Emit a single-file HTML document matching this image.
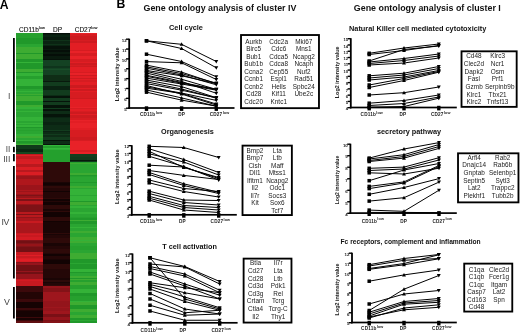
<!DOCTYPE html>
<html><head><meta charset="utf-8"><title>Figure</title>
<style>
html,body{margin:0;padding:0;background:#fff;}
body{width:520px;height:332px;position:relative;overflow:hidden;font-family:"Liberation Sans", sans-serif;}
#wrap{position:absolute;left:0;top:0;width:520px;height:332px;filter:blur(0.5px);}
</style></head><body><div id="wrap">
<svg width="520" height="332" viewBox="0 0 520 332" style="position:absolute;left:0;top:0">
<g shape-rendering="crispEdges">
<rect x="16.00" y="32.60" width="27.30" height="1.49" fill="rgb(38,160,46)"/>
<rect x="16.00" y="34.05" width="27.30" height="1.49" fill="rgb(38,160,46)"/>
<rect x="16.00" y="35.50" width="27.30" height="1.49" fill="rgb(38,160,46)"/>
<rect x="16.00" y="36.95" width="27.30" height="1.49" fill="rgb(38,160,46)"/>
<rect x="16.00" y="38.40" width="27.30" height="1.49" fill="rgb(32,152,42)"/>
<rect x="16.00" y="39.85" width="27.30" height="1.49" fill="rgb(32,152,42)"/>
<rect x="16.00" y="41.30" width="27.30" height="1.49" fill="rgb(32,152,42)"/>
<rect x="16.00" y="42.75" width="27.30" height="1.49" fill="rgb(32,152,42)"/>
<rect x="16.00" y="44.20" width="27.30" height="1.49" fill="rgb(42,165,50)"/>
<rect x="16.00" y="45.65" width="27.30" height="1.49" fill="rgb(42,165,50)"/>
<rect x="16.00" y="47.10" width="27.30" height="1.49" fill="rgb(62,172,50)"/>
<rect x="16.00" y="48.55" width="27.30" height="1.49" fill="rgb(62,172,50)"/>
<rect x="16.00" y="50.00" width="27.30" height="1.49" fill="rgb(62,172,50)"/>
<rect x="16.00" y="51.45" width="27.30" height="1.49" fill="rgb(62,172,50)"/>
<rect x="16.00" y="52.90" width="27.30" height="1.49" fill="rgb(32,152,42)"/>
<rect x="16.00" y="54.35" width="27.30" height="1.49" fill="rgb(62,172,50)"/>
<rect x="16.00" y="55.80" width="27.30" height="1.49" fill="rgb(62,172,50)"/>
<rect x="16.00" y="57.25" width="27.30" height="1.49" fill="rgb(62,172,50)"/>
<rect x="16.00" y="58.70" width="27.30" height="1.49" fill="rgb(32,152,42)"/>
<rect x="16.00" y="60.15" width="27.30" height="1.49" fill="rgb(32,152,42)"/>
<rect x="16.00" y="61.60" width="27.30" height="1.49" fill="rgb(52,178,56)"/>
<rect x="16.00" y="63.05" width="27.30" height="1.49" fill="rgb(32,152,42)"/>
<rect x="16.00" y="64.50" width="27.30" height="1.49" fill="rgb(32,152,42)"/>
<rect x="16.00" y="65.95" width="27.30" height="1.49" fill="rgb(32,152,42)"/>
<rect x="16.00" y="67.40" width="27.30" height="1.49" fill="rgb(32,152,42)"/>
<rect x="16.00" y="68.85" width="27.30" height="1.49" fill="rgb(62,172,50)"/>
<rect x="16.00" y="70.30" width="27.30" height="1.49" fill="rgb(62,172,50)"/>
<rect x="16.00" y="71.75" width="27.30" height="1.49" fill="rgb(32,152,42)"/>
<rect x="16.00" y="73.20" width="27.30" height="1.49" fill="rgb(52,178,56)"/>
<rect x="16.00" y="74.65" width="27.30" height="1.49" fill="rgb(52,178,56)"/>
<rect x="16.00" y="76.10" width="27.30" height="1.49" fill="rgb(38,160,46)"/>
<rect x="16.00" y="77.55" width="27.30" height="1.49" fill="rgb(38,160,46)"/>
<rect x="16.00" y="79.00" width="27.30" height="1.49" fill="rgb(52,178,56)"/>
<rect x="16.00" y="80.45" width="27.30" height="1.49" fill="rgb(52,178,56)"/>
<rect x="16.00" y="81.90" width="27.30" height="1.49" fill="rgb(52,178,56)"/>
<rect x="16.00" y="83.35" width="27.30" height="1.49" fill="rgb(52,178,56)"/>
<rect x="16.00" y="84.80" width="27.30" height="1.49" fill="rgb(52,178,56)"/>
<rect x="16.00" y="86.25" width="27.30" height="1.49" fill="rgb(32,152,42)"/>
<rect x="16.00" y="87.70" width="27.30" height="1.49" fill="rgb(32,152,42)"/>
<rect x="16.00" y="89.15" width="27.30" height="1.49" fill="rgb(42,165,50)"/>
<rect x="16.00" y="90.60" width="27.30" height="1.49" fill="rgb(52,178,56)"/>
<rect x="16.00" y="92.05" width="27.30" height="1.49" fill="rgb(42,165,50)"/>
<rect x="16.00" y="93.50" width="27.30" height="1.49" fill="rgb(62,172,50)"/>
<rect x="16.00" y="94.95" width="27.30" height="1.49" fill="rgb(38,160,46)"/>
<rect x="16.00" y="96.40" width="27.30" height="1.49" fill="rgb(62,172,50)"/>
<rect x="16.00" y="97.85" width="27.30" height="1.49" fill="rgb(62,172,50)"/>
<rect x="16.00" y="99.30" width="27.30" height="1.49" fill="rgb(62,172,50)"/>
<rect x="16.00" y="100.75" width="27.30" height="1.49" fill="rgb(32,152,42)"/>
<rect x="16.00" y="102.20" width="27.30" height="1.49" fill="rgb(32,152,42)"/>
<rect x="16.00" y="103.65" width="27.30" height="1.49" fill="rgb(32,152,42)"/>
<rect x="16.00" y="105.10" width="27.30" height="1.49" fill="rgb(62,172,50)"/>
<rect x="16.00" y="106.55" width="27.30" height="1.49" fill="rgb(52,178,56)"/>
<rect x="16.00" y="108.00" width="27.30" height="1.49" fill="rgb(52,178,56)"/>
<rect x="16.00" y="109.45" width="27.30" height="1.49" fill="rgb(42,165,50)"/>
<rect x="16.00" y="110.90" width="27.30" height="1.49" fill="rgb(52,178,56)"/>
<rect x="16.00" y="112.35" width="27.30" height="1.49" fill="rgb(42,165,50)"/>
<rect x="16.00" y="113.80" width="27.30" height="1.49" fill="rgb(42,165,50)"/>
<rect x="16.00" y="115.25" width="27.30" height="1.49" fill="rgb(42,165,50)"/>
<rect x="16.00" y="116.70" width="27.30" height="1.49" fill="rgb(52,178,56)"/>
<rect x="16.00" y="118.15" width="27.30" height="1.49" fill="rgb(52,178,56)"/>
<rect x="16.00" y="119.60" width="27.30" height="1.49" fill="rgb(52,178,56)"/>
<rect x="16.00" y="121.05" width="27.30" height="1.49" fill="rgb(42,165,50)"/>
<rect x="16.00" y="122.50" width="27.30" height="1.49" fill="rgb(52,178,56)"/>
<rect x="16.00" y="123.95" width="27.30" height="1.49" fill="rgb(42,165,50)"/>
<rect x="16.00" y="125.40" width="27.30" height="1.49" fill="rgb(52,178,56)"/>
<rect x="16.00" y="126.85" width="27.30" height="1.49" fill="rgb(32,152,42)"/>
<rect x="16.00" y="128.30" width="27.30" height="1.49" fill="rgb(42,165,50)"/>
<rect x="16.00" y="129.75" width="27.30" height="1.49" fill="rgb(38,160,46)"/>
<rect x="16.00" y="131.20" width="27.30" height="1.49" fill="rgb(42,165,50)"/>
<rect x="16.00" y="132.65" width="27.30" height="1.49" fill="rgb(42,165,50)"/>
<rect x="16.00" y="134.10" width="27.30" height="1.49" fill="rgb(52,178,56)"/>
<rect x="16.00" y="135.55" width="27.30" height="1.49" fill="rgb(62,172,50)"/>
<rect x="16.00" y="137.00" width="27.30" height="1.49" fill="rgb(62,172,50)"/>
<rect x="16.00" y="138.45" width="27.30" height="1.49" fill="rgb(42,165,50)"/>
<rect x="16.00" y="139.90" width="27.30" height="1.49" fill="rgb(52,178,56)"/>
<rect x="16.00" y="141.35" width="27.30" height="1.49" fill="rgb(32,152,42)"/>
<rect x="16.00" y="142.80" width="27.30" height="1.49" fill="rgb(38,160,46)"/>
<rect x="16.00" y="144.25" width="27.30" height="0.39" fill="rgb(62,172,50)"/>
<rect x="16.00" y="144.60" width="27.30" height="1.49" fill="rgb(16,58,26)"/>
<rect x="16.00" y="146.05" width="27.30" height="1.49" fill="rgb(16,58,26)"/>
<rect x="16.00" y="147.50" width="27.30" height="1.49" fill="rgb(16,58,26)"/>
<rect x="16.00" y="148.95" width="27.30" height="1.49" fill="rgb(10,40,18)"/>
<rect x="16.00" y="150.40" width="27.30" height="1.49" fill="rgb(10,40,18)"/>
<rect x="16.00" y="151.85" width="27.30" height="1.49" fill="rgb(22,72,32)"/>
<rect x="16.00" y="153.30" width="27.30" height="0.24" fill="rgb(22,72,32)"/>
<rect x="16.00" y="153.50" width="27.30" height="1.49" fill="rgb(192,26,31)"/>
<rect x="16.00" y="154.95" width="27.30" height="1.49" fill="rgb(222,32,38)"/>
<rect x="16.00" y="156.40" width="27.30" height="1.49" fill="rgb(192,26,31)"/>
<rect x="16.00" y="157.85" width="27.30" height="1.49" fill="rgb(192,26,31)"/>
<rect x="16.00" y="159.30" width="27.30" height="1.49" fill="rgb(214,30,36)"/>
<rect x="16.00" y="160.75" width="27.30" height="0.79" fill="rgb(214,30,36)"/>
<rect x="16.00" y="161.50" width="27.30" height="1.49" fill="rgb(218,30,36)"/>
<rect x="16.00" y="162.95" width="27.30" height="1.49" fill="rgb(218,30,36)"/>
<rect x="16.00" y="164.40" width="27.30" height="1.49" fill="rgb(185,25,30)"/>
<rect x="16.00" y="165.85" width="27.30" height="1.49" fill="rgb(185,25,30)"/>
<rect x="16.00" y="167.30" width="27.30" height="1.49" fill="rgb(218,30,36)"/>
<rect x="16.00" y="168.75" width="27.30" height="1.49" fill="rgb(218,30,36)"/>
<rect x="16.00" y="170.20" width="27.30" height="1.49" fill="rgb(185,25,30)"/>
<rect x="16.00" y="171.65" width="27.30" height="1.49" fill="rgb(218,30,36)"/>
<rect x="16.00" y="173.10" width="27.30" height="1.49" fill="rgb(218,30,36)"/>
<rect x="16.00" y="174.55" width="27.30" height="0.49" fill="rgb(218,30,36)"/>
<rect x="16.00" y="175.00" width="27.30" height="1.49" fill="rgb(175,23,28)"/>
<rect x="16.00" y="176.45" width="27.30" height="1.49" fill="rgb(155,20,26)"/>
<rect x="16.00" y="177.90" width="27.30" height="1.49" fill="rgb(155,20,26)"/>
<rect x="16.00" y="179.35" width="27.30" height="1.49" fill="rgb(175,23,28)"/>
<rect x="16.00" y="180.80" width="27.30" height="1.49" fill="rgb(175,23,28)"/>
<rect x="16.00" y="182.25" width="27.30" height="1.49" fill="rgb(175,23,28)"/>
<rect x="16.00" y="183.70" width="27.30" height="1.49" fill="rgb(175,23,28)"/>
<rect x="16.00" y="185.15" width="27.30" height="1.49" fill="rgb(155,20,26)"/>
<rect x="16.00" y="186.60" width="27.30" height="1.49" fill="rgb(155,20,26)"/>
<rect x="16.00" y="188.05" width="27.30" height="1.49" fill="rgb(155,20,26)"/>
<rect x="16.00" y="189.50" width="27.30" height="1.49" fill="rgb(175,23,28)"/>
<rect x="16.00" y="190.95" width="27.30" height="1.49" fill="rgb(155,20,26)"/>
<rect x="16.00" y="192.40" width="27.30" height="1.49" fill="rgb(175,23,28)"/>
<rect x="16.00" y="193.85" width="27.30" height="1.19" fill="rgb(155,20,26)"/>
<rect x="16.00" y="195.00" width="27.30" height="1.49" fill="rgb(125,18,22)"/>
<rect x="16.00" y="196.45" width="27.30" height="1.49" fill="rgb(150,20,25)"/>
<rect x="16.00" y="197.90" width="27.30" height="1.49" fill="rgb(185,25,30)"/>
<rect x="16.00" y="199.35" width="27.30" height="1.49" fill="rgb(125,18,22)"/>
<rect x="16.00" y="200.80" width="27.30" height="1.49" fill="rgb(185,25,30)"/>
<rect x="16.00" y="202.25" width="27.30" height="1.49" fill="rgb(185,25,30)"/>
<rect x="16.00" y="203.70" width="27.30" height="1.49" fill="rgb(150,20,25)"/>
<rect x="16.00" y="205.15" width="27.30" height="1.49" fill="rgb(125,18,22)"/>
<rect x="16.00" y="206.60" width="27.30" height="1.49" fill="rgb(125,18,22)"/>
<rect x="16.00" y="208.05" width="27.30" height="1.49" fill="rgb(125,18,22)"/>
<rect x="16.00" y="209.50" width="27.30" height="1.49" fill="rgb(125,18,22)"/>
<rect x="16.00" y="210.95" width="27.30" height="1.49" fill="rgb(125,18,22)"/>
<rect x="16.00" y="212.40" width="27.30" height="1.49" fill="rgb(185,25,30)"/>
<rect x="16.00" y="213.85" width="27.30" height="1.49" fill="rgb(125,18,22)"/>
<rect x="16.00" y="215.30" width="27.30" height="1.49" fill="rgb(185,25,30)"/>
<rect x="16.00" y="216.75" width="27.30" height="0.29" fill="rgb(185,25,30)"/>
<rect x="16.00" y="217.00" width="27.30" height="1.49" fill="rgb(145,20,25)"/>
<rect x="16.00" y="218.45" width="27.30" height="1.49" fill="rgb(170,22,28)"/>
<rect x="16.00" y="219.90" width="27.30" height="1.49" fill="rgb(170,22,28)"/>
<rect x="16.00" y="221.35" width="27.30" height="1.49" fill="rgb(200,26,32)"/>
<rect x="16.00" y="222.80" width="27.30" height="1.49" fill="rgb(170,22,28)"/>
<rect x="16.00" y="224.25" width="27.30" height="1.49" fill="rgb(170,22,28)"/>
<rect x="16.00" y="225.70" width="27.30" height="1.49" fill="rgb(170,22,28)"/>
<rect x="16.00" y="227.15" width="27.30" height="1.49" fill="rgb(170,22,28)"/>
<rect x="16.00" y="228.60" width="27.30" height="1.49" fill="rgb(170,22,28)"/>
<rect x="16.00" y="230.05" width="27.30" height="1.49" fill="rgb(170,22,28)"/>
<rect x="16.00" y="231.50" width="27.30" height="1.49" fill="rgb(170,22,28)"/>
<rect x="16.00" y="232.95" width="27.30" height="1.09" fill="rgb(200,26,32)"/>
<rect x="16.00" y="234.00" width="27.30" height="1.49" fill="rgb(212,27,35)"/>
<rect x="16.00" y="235.45" width="27.30" height="1.49" fill="rgb(200,25,32)"/>
<rect x="16.00" y="236.90" width="27.30" height="1.49" fill="rgb(212,27,35)"/>
<rect x="16.00" y="238.35" width="27.30" height="1.49" fill="rgb(212,27,35)"/>
<rect x="16.00" y="239.80" width="27.30" height="0.24" fill="rgb(200,25,32)"/>
<rect x="16.00" y="240.00" width="27.30" height="1.49" fill="rgb(130,20,25)"/>
<rect x="16.00" y="241.45" width="27.30" height="1.49" fill="rgb(115,16,20)"/>
<rect x="16.00" y="242.90" width="27.30" height="1.49" fill="rgb(130,20,25)"/>
<rect x="16.00" y="244.35" width="27.30" height="1.49" fill="rgb(150,20,25)"/>
<rect x="16.00" y="245.80" width="27.30" height="1.49" fill="rgb(130,20,25)"/>
<rect x="16.00" y="247.25" width="27.30" height="1.49" fill="rgb(115,16,20)"/>
<rect x="16.00" y="248.70" width="27.30" height="1.49" fill="rgb(115,16,20)"/>
<rect x="16.00" y="250.15" width="27.30" height="1.49" fill="rgb(115,16,20)"/>
<rect x="16.00" y="251.60" width="27.30" height="0.44" fill="rgb(115,16,20)"/>
<rect x="16.00" y="252.00" width="27.30" height="1.49" fill="rgb(200,26,32)"/>
<rect x="16.00" y="253.45" width="27.30" height="1.49" fill="rgb(200,26,32)"/>
<rect x="16.00" y="254.90" width="27.30" height="1.49" fill="rgb(225,30,38)"/>
<rect x="16.00" y="256.35" width="27.30" height="1.49" fill="rgb(200,26,32)"/>
<rect x="16.00" y="257.80" width="27.30" height="1.49" fill="rgb(215,28,35)"/>
<rect x="16.00" y="259.25" width="27.30" height="1.49" fill="rgb(225,30,38)"/>
<rect x="16.00" y="260.70" width="27.30" height="1.34" fill="rgb(215,28,35)"/>
<rect x="16.00" y="262.00" width="27.30" height="1.49" fill="rgb(130,20,25)"/>
<rect x="16.00" y="263.45" width="27.30" height="1.49" fill="rgb(150,20,28)"/>
<rect x="16.00" y="264.90" width="27.30" height="1.49" fill="rgb(112,16,20)"/>
<rect x="16.00" y="266.35" width="27.30" height="1.49" fill="rgb(112,16,20)"/>
<rect x="16.00" y="267.80" width="27.30" height="1.49" fill="rgb(112,16,20)"/>
<rect x="16.00" y="269.25" width="27.30" height="1.49" fill="rgb(112,16,20)"/>
<rect x="16.00" y="270.70" width="27.30" height="1.49" fill="rgb(150,20,28)"/>
<rect x="16.00" y="272.15" width="27.30" height="1.49" fill="rgb(112,16,20)"/>
<rect x="16.00" y="273.60" width="27.30" height="1.49" fill="rgb(150,20,28)"/>
<rect x="16.00" y="275.05" width="27.30" height="1.49" fill="rgb(150,20,28)"/>
<rect x="16.00" y="276.50" width="27.30" height="1.49" fill="rgb(150,20,28)"/>
<rect x="16.00" y="277.95" width="27.30" height="0.59" fill="rgb(150,20,28)"/>
<rect x="16.00" y="278.50" width="27.30" height="1.49" fill="rgb(200,25,32)"/>
<rect x="16.00" y="279.95" width="27.30" height="1.49" fill="rgb(212,26,34)"/>
<rect x="16.00" y="281.40" width="27.30" height="1.49" fill="rgb(200,25,32)"/>
<rect x="16.00" y="282.85" width="27.30" height="1.49" fill="rgb(200,25,32)"/>
<rect x="16.00" y="284.30" width="27.30" height="1.49" fill="rgb(200,25,32)"/>
<rect x="16.00" y="285.75" width="27.30" height="0.69" fill="rgb(200,25,32)"/>
<rect x="16.00" y="286.40" width="27.30" height="1.49" fill="rgb(60,9,11)"/>
<rect x="16.00" y="287.85" width="27.30" height="1.49" fill="rgb(60,9,11)"/>
<rect x="16.00" y="289.30" width="27.30" height="1.49" fill="rgb(60,9,11)"/>
<rect x="16.00" y="290.75" width="27.30" height="1.49" fill="rgb(60,9,11)"/>
<rect x="16.00" y="292.20" width="27.30" height="1.49" fill="rgb(35,5,5)"/>
<rect x="16.00" y="293.65" width="27.30" height="1.49" fill="rgb(35,5,5)"/>
<rect x="16.00" y="295.10" width="27.30" height="1.49" fill="rgb(35,5,5)"/>
<rect x="16.00" y="296.55" width="27.30" height="1.49" fill="rgb(35,5,5)"/>
<rect x="16.00" y="298.00" width="27.30" height="1.49" fill="rgb(35,5,5)"/>
<rect x="16.00" y="299.45" width="27.30" height="1.49" fill="rgb(60,9,11)"/>
<rect x="16.00" y="300.90" width="27.30" height="1.49" fill="rgb(60,9,11)"/>
<rect x="16.00" y="302.35" width="27.30" height="1.49" fill="rgb(22,3,3)"/>
<rect x="16.00" y="303.80" width="27.30" height="1.49" fill="rgb(22,3,3)"/>
<rect x="16.00" y="305.25" width="27.30" height="1.49" fill="rgb(22,3,3)"/>
<rect x="16.00" y="306.70" width="27.30" height="1.49" fill="rgb(22,3,3)"/>
<rect x="16.00" y="308.15" width="27.30" height="1.49" fill="rgb(60,9,11)"/>
<rect x="16.00" y="309.60" width="27.30" height="1.49" fill="rgb(35,5,5)"/>
<rect x="16.00" y="311.05" width="27.30" height="1.49" fill="rgb(22,3,3)"/>
<rect x="16.00" y="312.50" width="27.30" height="1.49" fill="rgb(22,3,3)"/>
<rect x="16.00" y="313.95" width="27.30" height="1.49" fill="rgb(22,3,3)"/>
<rect x="16.00" y="315.40" width="27.30" height="1.49" fill="rgb(22,3,3)"/>
<rect x="16.00" y="316.85" width="27.30" height="1.49" fill="rgb(60,9,11)"/>
<rect x="16.00" y="318.30" width="27.30" height="1.49" fill="rgb(22,3,3)"/>
<rect x="16.00" y="319.75" width="27.30" height="1.49" fill="rgb(60,9,11)"/>
<rect x="16.00" y="321.20" width="27.30" height="1.49" fill="rgb(95,14,17)"/>
<rect x="16.00" y="322.65" width="27.30" height="0.79" fill="rgb(95,14,17)"/>
<rect x="43.30" y="32.60" width="26.70" height="1.24" fill="rgb(5,14,8)"/>
<rect x="43.30" y="33.80" width="26.70" height="1.49" fill="rgb(8,26,14)"/>
<rect x="43.30" y="35.25" width="26.70" height="1.49" fill="rgb(10,35,18)"/>
<rect x="43.30" y="36.70" width="26.70" height="1.49" fill="rgb(8,26,14)"/>
<rect x="43.30" y="38.15" width="26.70" height="1.49" fill="rgb(8,26,14)"/>
<rect x="43.30" y="39.60" width="26.70" height="1.04" fill="rgb(15,50,25)"/>
<rect x="43.30" y="40.60" width="26.70" height="1.49" fill="rgb(10,35,18)"/>
<rect x="43.30" y="42.05" width="26.70" height="1.49" fill="rgb(10,35,18)"/>
<rect x="43.30" y="43.50" width="26.70" height="1.49" fill="rgb(15,50,25)"/>
<rect x="43.30" y="44.95" width="26.70" height="0.79" fill="rgb(10,35,18)"/>
<rect x="43.30" y="45.70" width="26.70" height="1.49" fill="rgb(6,18,10)"/>
<rect x="43.30" y="47.15" width="26.70" height="1.49" fill="rgb(6,18,10)"/>
<rect x="43.30" y="48.60" width="26.70" height="1.49" fill="rgb(9,26,14)"/>
<rect x="43.30" y="50.05" width="26.70" height="1.49" fill="rgb(5,14,8)"/>
<rect x="43.30" y="51.50" width="26.70" height="1.49" fill="rgb(9,26,14)"/>
<rect x="43.30" y="52.95" width="26.70" height="1.49" fill="rgb(9,26,14)"/>
<rect x="43.30" y="54.40" width="26.70" height="1.49" fill="rgb(5,14,8)"/>
<rect x="43.30" y="55.85" width="26.70" height="1.49" fill="rgb(9,26,14)"/>
<rect x="43.30" y="57.30" width="26.70" height="1.49" fill="rgb(9,26,14)"/>
<rect x="43.30" y="58.75" width="26.70" height="1.49" fill="rgb(6,18,10)"/>
<rect x="43.30" y="60.20" width="26.70" height="0.14" fill="rgb(6,18,10)"/>
<rect x="43.30" y="60.30" width="26.70" height="1.49" fill="rgb(20,66,35)"/>
<rect x="43.30" y="61.75" width="26.70" height="1.49" fill="rgb(20,66,35)"/>
<rect x="43.30" y="63.20" width="26.70" height="1.49" fill="rgb(20,66,35)"/>
<rect x="43.30" y="64.65" width="26.70" height="1.49" fill="rgb(20,66,35)"/>
<rect x="43.30" y="66.10" width="26.70" height="1.49" fill="rgb(15,52,28)"/>
<rect x="43.30" y="67.55" width="26.70" height="1.49" fill="rgb(20,66,35)"/>
<rect x="43.30" y="69.00" width="26.70" height="1.49" fill="rgb(24,76,40)"/>
<rect x="43.30" y="70.45" width="26.70" height="1.49" fill="rgb(20,66,35)"/>
<rect x="43.30" y="71.90" width="26.70" height="1.49" fill="rgb(20,66,35)"/>
<rect x="43.30" y="73.35" width="26.70" height="1.49" fill="rgb(20,66,35)"/>
<rect x="43.30" y="74.80" width="26.70" height="0.24" fill="rgb(20,66,35)"/>
<rect x="43.30" y="75.00" width="26.70" height="1.49" fill="rgb(15,45,22)"/>
<rect x="43.30" y="76.45" width="26.70" height="1.49" fill="rgb(15,45,22)"/>
<rect x="43.30" y="77.90" width="26.70" height="1.49" fill="rgb(15,45,22)"/>
<rect x="43.30" y="79.35" width="26.70" height="1.49" fill="rgb(15,45,22)"/>
<rect x="43.30" y="80.80" width="26.70" height="0.94" fill="rgb(8,25,12)"/>
<rect x="43.30" y="81.70" width="26.70" height="1.49" fill="rgb(18,60,30)"/>
<rect x="43.30" y="83.15" width="26.70" height="1.49" fill="rgb(18,60,30)"/>
<rect x="43.30" y="84.60" width="26.70" height="1.49" fill="rgb(18,60,30)"/>
<rect x="43.30" y="86.05" width="26.70" height="1.49" fill="rgb(10,35,18)"/>
<rect x="43.30" y="87.50" width="26.70" height="1.49" fill="rgb(10,35,18)"/>
<rect x="43.30" y="88.95" width="26.70" height="1.49" fill="rgb(10,35,18)"/>
<rect x="43.30" y="90.40" width="26.70" height="1.49" fill="rgb(18,60,30)"/>
<rect x="43.30" y="91.85" width="26.70" height="1.49" fill="rgb(18,60,30)"/>
<rect x="43.30" y="93.30" width="26.70" height="1.49" fill="rgb(18,60,30)"/>
<rect x="43.30" y="94.75" width="26.70" height="1.49" fill="rgb(13,44,22)"/>
<rect x="43.30" y="96.20" width="26.70" height="1.49" fill="rgb(6,20,10)"/>
<rect x="43.30" y="97.65" width="26.70" height="1.49" fill="rgb(18,60,30)"/>
<rect x="43.30" y="99.10" width="26.70" height="1.49" fill="rgb(18,60,30)"/>
<rect x="43.30" y="100.55" width="26.70" height="1.49" fill="rgb(6,20,10)"/>
<rect x="43.30" y="102.00" width="26.70" height="1.49" fill="rgb(18,60,30)"/>
<rect x="43.30" y="103.45" width="26.70" height="1.49" fill="rgb(18,60,30)"/>
<rect x="43.30" y="104.90" width="26.70" height="1.49" fill="rgb(6,20,10)"/>
<rect x="43.30" y="106.35" width="26.70" height="1.49" fill="rgb(6,20,10)"/>
<rect x="43.30" y="107.80" width="26.70" height="1.49" fill="rgb(18,60,30)"/>
<rect x="43.30" y="109.25" width="26.70" height="1.49" fill="rgb(6,20,10)"/>
<rect x="43.30" y="110.70" width="26.70" height="1.49" fill="rgb(13,44,22)"/>
<rect x="43.30" y="112.15" width="26.70" height="1.49" fill="rgb(13,44,22)"/>
<rect x="43.30" y="113.60" width="26.70" height="1.49" fill="rgb(6,20,10)"/>
<rect x="43.30" y="115.05" width="26.70" height="1.49" fill="rgb(6,20,10)"/>
<rect x="43.30" y="116.50" width="26.70" height="1.49" fill="rgb(10,35,18)"/>
<rect x="43.30" y="117.95" width="26.70" height="1.49" fill="rgb(13,44,22)"/>
<rect x="43.30" y="119.40" width="26.70" height="1.49" fill="rgb(13,44,22)"/>
<rect x="43.30" y="120.85" width="26.70" height="1.49" fill="rgb(13,44,22)"/>
<rect x="43.30" y="122.30" width="26.70" height="1.49" fill="rgb(10,35,18)"/>
<rect x="43.30" y="123.75" width="26.70" height="1.49" fill="rgb(10,35,18)"/>
<rect x="43.30" y="125.20" width="26.70" height="1.49" fill="rgb(13,44,22)"/>
<rect x="43.30" y="126.65" width="26.70" height="1.49" fill="rgb(13,44,22)"/>
<rect x="43.30" y="128.10" width="26.70" height="1.49" fill="rgb(13,44,22)"/>
<rect x="43.30" y="129.55" width="26.70" height="1.49" fill="rgb(18,60,30)"/>
<rect x="43.30" y="131.00" width="26.70" height="1.49" fill="rgb(10,35,18)"/>
<rect x="43.30" y="132.45" width="26.70" height="1.49" fill="rgb(13,44,22)"/>
<rect x="43.30" y="133.90" width="26.70" height="1.49" fill="rgb(18,60,30)"/>
<rect x="43.30" y="135.35" width="26.70" height="1.49" fill="rgb(13,44,22)"/>
<rect x="43.30" y="136.80" width="26.70" height="1.49" fill="rgb(18,60,30)"/>
<rect x="43.30" y="138.25" width="26.70" height="1.49" fill="rgb(18,60,30)"/>
<rect x="43.30" y="139.70" width="26.70" height="1.49" fill="rgb(6,20,10)"/>
<rect x="43.30" y="141.15" width="26.70" height="1.49" fill="rgb(13,44,22)"/>
<rect x="43.30" y="142.60" width="26.70" height="1.49" fill="rgb(13,44,22)"/>
<rect x="43.30" y="144.05" width="26.70" height="0.59" fill="rgb(6,20,10)"/>
<rect x="43.30" y="144.60" width="26.70" height="1.49" fill="rgb(52,182,60)"/>
<rect x="43.30" y="146.05" width="26.70" height="1.49" fill="rgb(36,160,45)"/>
<rect x="43.30" y="147.50" width="26.70" height="1.49" fill="rgb(52,182,60)"/>
<rect x="43.30" y="148.95" width="26.70" height="1.49" fill="rgb(46,175,55)"/>
<rect x="43.30" y="150.40" width="26.70" height="1.49" fill="rgb(36,160,45)"/>
<rect x="43.30" y="151.85" width="26.70" height="1.49" fill="rgb(36,160,45)"/>
<rect x="43.30" y="153.30" width="26.70" height="1.49" fill="rgb(36,160,45)"/>
<rect x="43.30" y="154.75" width="26.70" height="1.49" fill="rgb(36,160,45)"/>
<rect x="43.30" y="156.20" width="26.70" height="1.49" fill="rgb(36,160,45)"/>
<rect x="43.30" y="157.65" width="26.70" height="1.49" fill="rgb(36,160,45)"/>
<rect x="43.30" y="159.10" width="26.70" height="1.49" fill="rgb(36,160,45)"/>
<rect x="43.30" y="160.55" width="26.70" height="0.99" fill="rgb(36,160,45)"/>
<rect x="43.30" y="161.50" width="26.70" height="1.49" fill="rgb(46,10,9)"/>
<rect x="43.30" y="162.95" width="26.70" height="1.49" fill="rgb(46,10,9)"/>
<rect x="43.30" y="164.40" width="26.70" height="1.49" fill="rgb(46,10,9)"/>
<rect x="43.30" y="165.85" width="26.70" height="1.49" fill="rgb(46,10,9)"/>
<rect x="43.30" y="167.30" width="26.70" height="1.49" fill="rgb(46,10,9)"/>
<rect x="43.30" y="168.75" width="26.70" height="1.49" fill="rgb(46,10,9)"/>
<rect x="43.30" y="170.20" width="26.70" height="1.49" fill="rgb(46,10,9)"/>
<rect x="43.30" y="171.65" width="26.70" height="1.49" fill="rgb(46,10,9)"/>
<rect x="43.30" y="173.10" width="26.70" height="1.49" fill="rgb(46,10,9)"/>
<rect x="43.30" y="174.55" width="26.70" height="1.49" fill="rgb(46,10,9)"/>
<rect x="43.30" y="176.00" width="26.70" height="1.49" fill="rgb(46,10,9)"/>
<rect x="43.30" y="177.45" width="26.70" height="1.49" fill="rgb(46,10,9)"/>
<rect x="43.30" y="178.90" width="26.70" height="1.49" fill="rgb(46,10,9)"/>
<rect x="43.30" y="180.35" width="26.70" height="1.49" fill="rgb(46,10,9)"/>
<rect x="43.30" y="181.80" width="26.70" height="1.49" fill="rgb(26,5,5)"/>
<rect x="43.30" y="183.25" width="26.70" height="1.49" fill="rgb(18,3,3)"/>
<rect x="43.30" y="184.70" width="26.70" height="1.49" fill="rgb(26,5,5)"/>
<rect x="43.30" y="186.15" width="26.70" height="1.49" fill="rgb(46,10,9)"/>
<rect x="43.30" y="187.60" width="26.70" height="1.49" fill="rgb(36,7,7)"/>
<rect x="43.30" y="189.05" width="26.70" height="1.49" fill="rgb(36,7,7)"/>
<rect x="43.30" y="190.50" width="26.70" height="1.49" fill="rgb(18,3,3)"/>
<rect x="43.30" y="191.95" width="26.70" height="1.49" fill="rgb(36,7,7)"/>
<rect x="43.30" y="193.40" width="26.70" height="1.49" fill="rgb(36,7,7)"/>
<rect x="43.30" y="194.85" width="26.70" height="1.49" fill="rgb(36,7,7)"/>
<rect x="43.30" y="196.30" width="26.70" height="1.49" fill="rgb(36,7,7)"/>
<rect x="43.30" y="197.75" width="26.70" height="1.49" fill="rgb(46,10,9)"/>
<rect x="43.30" y="199.20" width="26.70" height="1.49" fill="rgb(18,3,3)"/>
<rect x="43.30" y="200.65" width="26.70" height="1.49" fill="rgb(36,7,7)"/>
<rect x="43.30" y="202.10" width="26.70" height="1.49" fill="rgb(18,3,3)"/>
<rect x="43.30" y="203.55" width="26.70" height="1.49" fill="rgb(18,3,3)"/>
<rect x="43.30" y="205.00" width="26.70" height="1.49" fill="rgb(46,10,9)"/>
<rect x="43.30" y="206.45" width="26.70" height="1.49" fill="rgb(46,10,9)"/>
<rect x="43.30" y="207.90" width="26.70" height="1.49" fill="rgb(46,10,9)"/>
<rect x="43.30" y="209.35" width="26.70" height="1.49" fill="rgb(26,5,5)"/>
<rect x="43.30" y="210.80" width="26.70" height="1.49" fill="rgb(46,10,9)"/>
<rect x="43.30" y="212.25" width="26.70" height="1.49" fill="rgb(18,3,3)"/>
<rect x="43.30" y="213.70" width="26.70" height="1.49" fill="rgb(18,3,3)"/>
<rect x="43.30" y="215.15" width="26.70" height="1.49" fill="rgb(18,3,3)"/>
<rect x="43.30" y="216.60" width="26.70" height="1.49" fill="rgb(46,10,9)"/>
<rect x="43.30" y="218.05" width="26.70" height="1.49" fill="rgb(46,10,9)"/>
<rect x="43.30" y="219.50" width="26.70" height="1.49" fill="rgb(46,10,9)"/>
<rect x="43.30" y="220.95" width="26.70" height="1.49" fill="rgb(18,3,3)"/>
<rect x="43.30" y="222.40" width="26.70" height="1.49" fill="rgb(26,5,5)"/>
<rect x="43.30" y="223.85" width="26.70" height="1.49" fill="rgb(26,5,5)"/>
<rect x="43.30" y="225.30" width="26.70" height="1.49" fill="rgb(26,5,5)"/>
<rect x="43.30" y="226.75" width="26.70" height="1.49" fill="rgb(26,5,5)"/>
<rect x="43.30" y="228.20" width="26.70" height="1.49" fill="rgb(26,5,5)"/>
<rect x="43.30" y="229.65" width="26.70" height="1.49" fill="rgb(26,5,5)"/>
<rect x="43.30" y="231.10" width="26.70" height="1.49" fill="rgb(26,5,5)"/>
<rect x="43.30" y="232.55" width="26.70" height="1.49" fill="rgb(46,10,9)"/>
<rect x="43.30" y="234.00" width="26.70" height="1.49" fill="rgb(26,5,5)"/>
<rect x="43.30" y="235.45" width="26.70" height="1.49" fill="rgb(36,7,7)"/>
<rect x="43.30" y="236.90" width="26.70" height="1.49" fill="rgb(36,7,7)"/>
<rect x="43.30" y="238.35" width="26.70" height="1.49" fill="rgb(46,10,9)"/>
<rect x="43.30" y="239.80" width="26.70" height="1.49" fill="rgb(46,10,9)"/>
<rect x="43.30" y="241.25" width="26.70" height="1.49" fill="rgb(46,10,9)"/>
<rect x="43.30" y="242.70" width="26.70" height="1.49" fill="rgb(26,5,5)"/>
<rect x="43.30" y="244.15" width="26.70" height="1.49" fill="rgb(26,5,5)"/>
<rect x="43.30" y="245.60" width="26.70" height="1.49" fill="rgb(36,7,7)"/>
<rect x="43.30" y="247.05" width="26.70" height="1.49" fill="rgb(36,7,7)"/>
<rect x="43.30" y="248.50" width="26.70" height="1.49" fill="rgb(46,10,9)"/>
<rect x="43.30" y="249.95" width="26.70" height="1.49" fill="rgb(46,10,9)"/>
<rect x="43.30" y="251.40" width="26.70" height="1.49" fill="rgb(46,10,9)"/>
<rect x="43.30" y="252.85" width="26.70" height="1.49" fill="rgb(36,7,7)"/>
<rect x="43.30" y="254.30" width="26.70" height="1.49" fill="rgb(18,3,3)"/>
<rect x="43.30" y="255.75" width="26.70" height="1.49" fill="rgb(36,7,7)"/>
<rect x="43.30" y="257.20" width="26.70" height="1.49" fill="rgb(36,7,7)"/>
<rect x="43.30" y="258.65" width="26.70" height="1.49" fill="rgb(26,5,5)"/>
<rect x="43.30" y="260.10" width="26.70" height="1.49" fill="rgb(18,3,3)"/>
<rect x="43.30" y="261.55" width="26.70" height="1.49" fill="rgb(18,3,3)"/>
<rect x="43.30" y="263.00" width="26.70" height="1.49" fill="rgb(18,3,3)"/>
<rect x="43.30" y="264.45" width="26.70" height="1.49" fill="rgb(46,10,9)"/>
<rect x="43.30" y="265.90" width="26.70" height="1.49" fill="rgb(46,10,9)"/>
<rect x="43.30" y="267.35" width="26.70" height="1.49" fill="rgb(46,10,9)"/>
<rect x="43.30" y="268.80" width="26.70" height="1.49" fill="rgb(36,7,7)"/>
<rect x="43.30" y="270.25" width="26.70" height="1.49" fill="rgb(36,7,7)"/>
<rect x="43.30" y="271.70" width="26.70" height="1.49" fill="rgb(36,7,7)"/>
<rect x="43.30" y="273.15" width="26.70" height="1.49" fill="rgb(36,7,7)"/>
<rect x="43.30" y="274.60" width="26.70" height="1.49" fill="rgb(36,7,7)"/>
<rect x="43.30" y="276.05" width="26.70" height="1.49" fill="rgb(36,7,7)"/>
<rect x="43.30" y="277.50" width="26.70" height="1.49" fill="rgb(26,5,5)"/>
<rect x="43.30" y="278.95" width="26.70" height="1.49" fill="rgb(26,5,5)"/>
<rect x="43.30" y="280.40" width="26.70" height="1.49" fill="rgb(46,10,9)"/>
<rect x="43.30" y="281.85" width="26.70" height="1.49" fill="rgb(26,5,5)"/>
<rect x="43.30" y="283.30" width="26.70" height="1.49" fill="rgb(36,7,7)"/>
<rect x="43.30" y="284.75" width="26.70" height="1.49" fill="rgb(46,10,9)"/>
<rect x="43.30" y="286.20" width="26.70" height="0.24" fill="rgb(46,10,9)"/>
<rect x="43.30" y="286.40" width="26.70" height="1.49" fill="rgb(148,20,27)"/>
<rect x="43.30" y="287.85" width="26.70" height="1.49" fill="rgb(132,18,23)"/>
<rect x="43.30" y="289.30" width="26.70" height="1.49" fill="rgb(132,18,23)"/>
<rect x="43.30" y="290.75" width="26.70" height="1.49" fill="rgb(132,18,23)"/>
<rect x="43.30" y="292.20" width="26.70" height="1.49" fill="rgb(158,22,29)"/>
<rect x="43.30" y="293.65" width="26.70" height="1.49" fill="rgb(158,22,29)"/>
<rect x="43.30" y="295.10" width="26.70" height="1.49" fill="rgb(158,22,29)"/>
<rect x="43.30" y="296.55" width="26.70" height="1.49" fill="rgb(158,22,29)"/>
<rect x="43.30" y="298.00" width="26.70" height="1.49" fill="rgb(158,22,29)"/>
<rect x="43.30" y="299.45" width="26.70" height="1.49" fill="rgb(158,22,29)"/>
<rect x="43.30" y="300.90" width="26.70" height="1.49" fill="rgb(148,20,27)"/>
<rect x="43.30" y="302.35" width="26.70" height="1.49" fill="rgb(148,20,27)"/>
<rect x="43.30" y="303.80" width="26.70" height="1.49" fill="rgb(148,20,27)"/>
<rect x="43.30" y="305.25" width="26.70" height="1.49" fill="rgb(148,20,27)"/>
<rect x="43.30" y="306.70" width="26.70" height="1.49" fill="rgb(158,22,29)"/>
<rect x="43.30" y="308.15" width="26.70" height="1.49" fill="rgb(148,20,27)"/>
<rect x="43.30" y="309.60" width="26.70" height="1.49" fill="rgb(148,20,27)"/>
<rect x="43.30" y="311.05" width="26.70" height="1.49" fill="rgb(158,22,29)"/>
<rect x="43.30" y="312.50" width="26.70" height="1.49" fill="rgb(158,22,29)"/>
<rect x="43.30" y="313.95" width="26.70" height="1.49" fill="rgb(122,16,22)"/>
<rect x="43.30" y="315.40" width="26.70" height="1.49" fill="rgb(122,16,22)"/>
<rect x="43.30" y="316.85" width="26.70" height="1.49" fill="rgb(148,20,27)"/>
<rect x="43.30" y="318.30" width="26.70" height="1.49" fill="rgb(148,20,27)"/>
<rect x="43.30" y="319.75" width="26.70" height="1.49" fill="rgb(122,16,22)"/>
<rect x="43.30" y="321.20" width="26.70" height="1.49" fill="rgb(132,18,23)"/>
<rect x="43.30" y="322.65" width="26.70" height="0.79" fill="rgb(148,20,27)"/>
<rect x="70.00" y="32.60" width="27.00" height="1.49" fill="rgb(232,34,40)"/>
<rect x="70.00" y="34.05" width="27.00" height="1.49" fill="rgb(214,28,33)"/>
<rect x="70.00" y="35.50" width="27.00" height="1.49" fill="rgb(205,26,31)"/>
<rect x="70.00" y="36.95" width="27.00" height="1.49" fill="rgb(205,26,31)"/>
<rect x="70.00" y="38.40" width="27.00" height="1.49" fill="rgb(205,26,31)"/>
<rect x="70.00" y="39.85" width="27.00" height="1.49" fill="rgb(214,28,33)"/>
<rect x="70.00" y="41.30" width="27.00" height="1.49" fill="rgb(205,26,31)"/>
<rect x="70.00" y="42.75" width="27.00" height="1.49" fill="rgb(226,30,36)"/>
<rect x="70.00" y="44.20" width="27.00" height="1.49" fill="rgb(226,30,36)"/>
<rect x="70.00" y="45.65" width="27.00" height="1.49" fill="rgb(226,30,36)"/>
<rect x="70.00" y="47.10" width="27.00" height="1.49" fill="rgb(226,30,36)"/>
<rect x="70.00" y="48.55" width="27.00" height="1.49" fill="rgb(226,30,36)"/>
<rect x="70.00" y="50.00" width="27.00" height="1.49" fill="rgb(214,28,33)"/>
<rect x="70.00" y="51.45" width="27.00" height="1.49" fill="rgb(232,34,40)"/>
<rect x="70.00" y="52.90" width="27.00" height="1.49" fill="rgb(214,28,33)"/>
<rect x="70.00" y="54.35" width="27.00" height="1.49" fill="rgb(214,28,33)"/>
<rect x="70.00" y="55.80" width="27.00" height="1.49" fill="rgb(232,34,40)"/>
<rect x="70.00" y="57.25" width="27.00" height="1.49" fill="rgb(232,34,40)"/>
<rect x="70.00" y="58.70" width="27.00" height="1.49" fill="rgb(214,28,33)"/>
<rect x="70.00" y="60.15" width="27.00" height="1.49" fill="rgb(214,28,33)"/>
<rect x="70.00" y="61.60" width="27.00" height="1.49" fill="rgb(226,30,36)"/>
<rect x="70.00" y="63.05" width="27.00" height="1.49" fill="rgb(205,26,31)"/>
<rect x="70.00" y="64.50" width="27.00" height="1.49" fill="rgb(214,28,33)"/>
<rect x="70.00" y="65.95" width="27.00" height="1.49" fill="rgb(205,26,31)"/>
<rect x="70.00" y="67.40" width="27.00" height="1.49" fill="rgb(226,30,36)"/>
<rect x="70.00" y="68.85" width="27.00" height="1.49" fill="rgb(226,30,36)"/>
<rect x="70.00" y="70.30" width="27.00" height="1.49" fill="rgb(226,30,36)"/>
<rect x="70.00" y="71.75" width="27.00" height="1.49" fill="rgb(214,28,33)"/>
<rect x="70.00" y="73.20" width="27.00" height="1.49" fill="rgb(232,34,40)"/>
<rect x="70.00" y="74.65" width="27.00" height="1.49" fill="rgb(205,26,31)"/>
<rect x="70.00" y="76.10" width="27.00" height="1.49" fill="rgb(226,30,36)"/>
<rect x="70.00" y="77.55" width="27.00" height="1.49" fill="rgb(205,26,31)"/>
<rect x="70.00" y="79.00" width="27.00" height="1.49" fill="rgb(226,30,36)"/>
<rect x="70.00" y="80.45" width="27.00" height="1.49" fill="rgb(214,28,33)"/>
<rect x="70.00" y="81.90" width="27.00" height="1.49" fill="rgb(226,30,36)"/>
<rect x="70.00" y="83.35" width="27.00" height="1.49" fill="rgb(226,30,36)"/>
<rect x="70.00" y="84.80" width="27.00" height="1.49" fill="rgb(205,26,31)"/>
<rect x="70.00" y="86.25" width="27.00" height="1.49" fill="rgb(205,26,31)"/>
<rect x="70.00" y="87.70" width="27.00" height="1.49" fill="rgb(226,30,36)"/>
<rect x="70.00" y="89.15" width="27.00" height="1.49" fill="rgb(205,26,31)"/>
<rect x="70.00" y="90.60" width="27.00" height="1.49" fill="rgb(226,30,36)"/>
<rect x="70.00" y="92.05" width="27.00" height="1.49" fill="rgb(214,28,33)"/>
<rect x="70.00" y="93.50" width="27.00" height="1.49" fill="rgb(214,28,33)"/>
<rect x="70.00" y="94.95" width="27.00" height="1.49" fill="rgb(214,28,33)"/>
<rect x="70.00" y="96.40" width="27.00" height="1.49" fill="rgb(214,28,33)"/>
<rect x="70.00" y="97.85" width="27.00" height="1.49" fill="rgb(205,26,31)"/>
<rect x="70.00" y="99.30" width="27.00" height="1.49" fill="rgb(226,30,36)"/>
<rect x="70.00" y="100.75" width="27.00" height="1.49" fill="rgb(226,30,36)"/>
<rect x="70.00" y="102.20" width="27.00" height="1.49" fill="rgb(226,30,36)"/>
<rect x="70.00" y="103.65" width="27.00" height="1.49" fill="rgb(226,30,36)"/>
<rect x="70.00" y="105.10" width="27.00" height="1.49" fill="rgb(226,30,36)"/>
<rect x="70.00" y="106.55" width="27.00" height="1.49" fill="rgb(232,34,40)"/>
<rect x="70.00" y="108.00" width="27.00" height="1.49" fill="rgb(214,28,33)"/>
<rect x="70.00" y="109.45" width="27.00" height="1.49" fill="rgb(226,30,36)"/>
<rect x="70.00" y="110.90" width="27.00" height="1.49" fill="rgb(214,28,33)"/>
<rect x="70.00" y="112.35" width="27.00" height="1.49" fill="rgb(205,26,31)"/>
<rect x="70.00" y="113.80" width="27.00" height="1.49" fill="rgb(226,30,36)"/>
<rect x="70.00" y="115.25" width="27.00" height="1.49" fill="rgb(205,26,31)"/>
<rect x="70.00" y="116.70" width="27.00" height="1.49" fill="rgb(205,26,31)"/>
<rect x="70.00" y="118.15" width="27.00" height="1.49" fill="rgb(214,28,33)"/>
<rect x="70.00" y="119.60" width="27.00" height="1.49" fill="rgb(232,34,40)"/>
<rect x="70.00" y="121.05" width="27.00" height="1.49" fill="rgb(226,30,36)"/>
<rect x="70.00" y="122.50" width="27.00" height="1.49" fill="rgb(232,34,40)"/>
<rect x="70.00" y="123.95" width="27.00" height="1.49" fill="rgb(232,34,40)"/>
<rect x="70.00" y="125.40" width="27.00" height="1.49" fill="rgb(232,34,40)"/>
<rect x="70.00" y="126.85" width="27.00" height="1.49" fill="rgb(232,34,40)"/>
<rect x="70.00" y="128.30" width="27.00" height="1.49" fill="rgb(226,30,36)"/>
<rect x="70.00" y="129.75" width="27.00" height="1.49" fill="rgb(214,28,33)"/>
<rect x="70.00" y="131.20" width="27.00" height="1.49" fill="rgb(214,28,33)"/>
<rect x="70.00" y="132.65" width="27.00" height="1.49" fill="rgb(214,28,33)"/>
<rect x="70.00" y="134.10" width="27.00" height="1.49" fill="rgb(214,28,33)"/>
<rect x="70.00" y="135.55" width="27.00" height="1.49" fill="rgb(214,28,33)"/>
<rect x="70.00" y="137.00" width="27.00" height="1.49" fill="rgb(205,26,31)"/>
<rect x="70.00" y="138.45" width="27.00" height="1.49" fill="rgb(205,26,31)"/>
<rect x="70.00" y="139.90" width="27.00" height="1.49" fill="rgb(214,28,33)"/>
<rect x="70.00" y="141.35" width="27.00" height="1.49" fill="rgb(232,34,40)"/>
<rect x="70.00" y="142.80" width="27.00" height="1.49" fill="rgb(232,34,40)"/>
<rect x="70.00" y="144.25" width="27.00" height="1.49" fill="rgb(232,34,40)"/>
<rect x="70.00" y="145.70" width="27.00" height="1.49" fill="rgb(232,34,40)"/>
<rect x="70.00" y="147.15" width="27.00" height="1.49" fill="rgb(232,34,40)"/>
<rect x="70.00" y="148.60" width="27.00" height="1.49" fill="rgb(232,34,40)"/>
<rect x="70.00" y="150.05" width="27.00" height="1.49" fill="rgb(214,28,33)"/>
<rect x="70.00" y="151.50" width="27.00" height="1.49" fill="rgb(232,34,40)"/>
<rect x="70.00" y="152.95" width="27.00" height="1.29" fill="rgb(232,34,40)"/>
<rect x="70.00" y="154.20" width="27.00" height="1.49" fill="rgb(18,62,30)"/>
<rect x="70.00" y="155.65" width="27.00" height="1.49" fill="rgb(18,62,30)"/>
<rect x="70.00" y="157.10" width="27.00" height="1.49" fill="rgb(16,58,28)"/>
<rect x="70.00" y="158.55" width="27.00" height="1.49" fill="rgb(16,58,28)"/>
<rect x="70.00" y="160.00" width="27.00" height="1.49" fill="rgb(6,26,11)"/>
<rect x="70.00" y="161.45" width="27.00" height="0.09" fill="rgb(16,58,28)"/>
<rect x="70.00" y="161.50" width="27.00" height="1.49" fill="rgb(38,160,46)"/>
<rect x="70.00" y="162.95" width="27.00" height="1.49" fill="rgb(62,172,50)"/>
<rect x="70.00" y="164.40" width="27.00" height="1.49" fill="rgb(42,165,50)"/>
<rect x="70.00" y="165.85" width="27.00" height="1.49" fill="rgb(42,165,50)"/>
<rect x="70.00" y="167.30" width="27.00" height="1.49" fill="rgb(42,165,50)"/>
<rect x="70.00" y="168.75" width="27.00" height="1.49" fill="rgb(42,165,50)"/>
<rect x="70.00" y="170.20" width="27.00" height="1.49" fill="rgb(42,165,50)"/>
<rect x="70.00" y="171.65" width="27.00" height="1.49" fill="rgb(42,165,50)"/>
<rect x="70.00" y="173.10" width="27.00" height="1.49" fill="rgb(62,172,50)"/>
<rect x="70.00" y="174.55" width="27.00" height="1.49" fill="rgb(32,152,42)"/>
<rect x="70.00" y="176.00" width="27.00" height="1.49" fill="rgb(38,160,46)"/>
<rect x="70.00" y="177.45" width="27.00" height="1.49" fill="rgb(42,165,50)"/>
<rect x="70.00" y="178.90" width="27.00" height="1.49" fill="rgb(42,165,50)"/>
<rect x="70.00" y="180.35" width="27.00" height="1.49" fill="rgb(42,165,50)"/>
<rect x="70.00" y="181.80" width="27.00" height="1.49" fill="rgb(32,152,42)"/>
<rect x="70.00" y="183.25" width="27.00" height="1.49" fill="rgb(42,165,50)"/>
<rect x="70.00" y="184.70" width="27.00" height="1.49" fill="rgb(42,165,50)"/>
<rect x="70.00" y="186.15" width="27.00" height="1.49" fill="rgb(62,172,50)"/>
<rect x="70.00" y="187.60" width="27.00" height="1.49" fill="rgb(42,165,50)"/>
<rect x="70.00" y="189.05" width="27.00" height="1.49" fill="rgb(52,178,56)"/>
<rect x="70.00" y="190.50" width="27.00" height="1.49" fill="rgb(52,178,56)"/>
<rect x="70.00" y="191.95" width="27.00" height="1.49" fill="rgb(52,178,56)"/>
<rect x="70.00" y="193.40" width="27.00" height="1.49" fill="rgb(52,178,56)"/>
<rect x="70.00" y="194.85" width="27.00" height="1.49" fill="rgb(42,165,50)"/>
<rect x="70.00" y="196.30" width="27.00" height="1.49" fill="rgb(52,178,56)"/>
<rect x="70.00" y="197.75" width="27.00" height="1.49" fill="rgb(52,178,56)"/>
<rect x="70.00" y="199.20" width="27.00" height="1.49" fill="rgb(52,178,56)"/>
<rect x="70.00" y="200.65" width="27.00" height="1.49" fill="rgb(32,152,42)"/>
<rect x="70.00" y="202.10" width="27.00" height="1.49" fill="rgb(62,172,50)"/>
<rect x="70.00" y="203.55" width="27.00" height="1.49" fill="rgb(62,172,50)"/>
<rect x="70.00" y="205.00" width="27.00" height="1.49" fill="rgb(42,165,50)"/>
<rect x="70.00" y="206.45" width="27.00" height="1.49" fill="rgb(52,178,56)"/>
<rect x="70.00" y="207.90" width="27.00" height="1.49" fill="rgb(42,165,50)"/>
<rect x="70.00" y="209.35" width="27.00" height="1.49" fill="rgb(42,165,50)"/>
<rect x="70.00" y="210.80" width="27.00" height="1.49" fill="rgb(42,165,50)"/>
<rect x="70.00" y="212.25" width="27.00" height="1.49" fill="rgb(52,178,56)"/>
<rect x="70.00" y="213.70" width="27.00" height="1.49" fill="rgb(42,165,50)"/>
<rect x="70.00" y="215.15" width="27.00" height="1.49" fill="rgb(42,165,50)"/>
<rect x="70.00" y="216.60" width="27.00" height="1.49" fill="rgb(38,160,46)"/>
<rect x="70.00" y="218.05" width="27.00" height="1.49" fill="rgb(32,152,42)"/>
<rect x="70.00" y="219.50" width="27.00" height="1.49" fill="rgb(62,172,50)"/>
<rect x="70.00" y="220.95" width="27.00" height="1.49" fill="rgb(32,152,42)"/>
<rect x="70.00" y="222.40" width="27.00" height="1.49" fill="rgb(32,152,42)"/>
<rect x="70.00" y="223.85" width="27.00" height="1.49" fill="rgb(42,165,50)"/>
<rect x="70.00" y="225.30" width="27.00" height="1.49" fill="rgb(42,165,50)"/>
<rect x="70.00" y="226.75" width="27.00" height="1.49" fill="rgb(52,178,56)"/>
<rect x="70.00" y="228.20" width="27.00" height="1.49" fill="rgb(42,165,50)"/>
<rect x="70.00" y="229.65" width="27.00" height="1.49" fill="rgb(42,165,50)"/>
<rect x="70.00" y="231.10" width="27.00" height="1.49" fill="rgb(62,172,50)"/>
<rect x="70.00" y="232.55" width="27.00" height="1.49" fill="rgb(42,165,50)"/>
<rect x="70.00" y="234.00" width="27.00" height="1.49" fill="rgb(42,165,50)"/>
<rect x="70.00" y="235.45" width="27.00" height="1.49" fill="rgb(42,165,50)"/>
<rect x="70.00" y="236.90" width="27.00" height="1.49" fill="rgb(62,172,50)"/>
<rect x="70.00" y="238.35" width="27.00" height="1.49" fill="rgb(62,172,50)"/>
<rect x="70.00" y="239.80" width="27.00" height="1.49" fill="rgb(52,178,56)"/>
<rect x="70.00" y="241.25" width="27.00" height="1.49" fill="rgb(62,172,50)"/>
<rect x="70.00" y="242.70" width="27.00" height="1.49" fill="rgb(42,165,50)"/>
<rect x="70.00" y="244.15" width="27.00" height="1.49" fill="rgb(42,165,50)"/>
<rect x="70.00" y="245.60" width="27.00" height="1.49" fill="rgb(38,160,46)"/>
<rect x="70.00" y="247.05" width="27.00" height="1.49" fill="rgb(38,160,46)"/>
<rect x="70.00" y="248.50" width="27.00" height="1.49" fill="rgb(38,160,46)"/>
<rect x="70.00" y="249.95" width="27.00" height="1.49" fill="rgb(42,165,50)"/>
<rect x="70.00" y="251.40" width="27.00" height="1.49" fill="rgb(42,165,50)"/>
<rect x="70.00" y="252.85" width="27.00" height="1.49" fill="rgb(62,172,50)"/>
<rect x="70.00" y="254.30" width="27.00" height="1.49" fill="rgb(62,172,50)"/>
<rect x="70.00" y="255.75" width="27.00" height="1.49" fill="rgb(62,172,50)"/>
<rect x="70.00" y="257.20" width="27.00" height="1.49" fill="rgb(62,172,50)"/>
<rect x="70.00" y="258.65" width="27.00" height="1.49" fill="rgb(32,152,42)"/>
<rect x="70.00" y="260.10" width="27.00" height="1.49" fill="rgb(32,152,42)"/>
<rect x="70.00" y="261.55" width="27.00" height="1.49" fill="rgb(32,152,42)"/>
<rect x="70.00" y="263.00" width="27.00" height="1.49" fill="rgb(42,165,50)"/>
<rect x="70.00" y="264.45" width="27.00" height="1.49" fill="rgb(32,152,42)"/>
<rect x="70.00" y="265.90" width="27.00" height="1.49" fill="rgb(32,152,42)"/>
<rect x="70.00" y="267.35" width="27.00" height="1.49" fill="rgb(32,152,42)"/>
<rect x="70.00" y="268.80" width="27.00" height="1.49" fill="rgb(52,178,56)"/>
<rect x="70.00" y="270.25" width="27.00" height="1.49" fill="rgb(52,178,56)"/>
<rect x="70.00" y="271.70" width="27.00" height="1.49" fill="rgb(32,152,42)"/>
<rect x="70.00" y="273.15" width="27.00" height="1.49" fill="rgb(42,165,50)"/>
<rect x="70.00" y="274.60" width="27.00" height="1.49" fill="rgb(42,165,50)"/>
<rect x="70.00" y="276.05" width="27.00" height="1.49" fill="rgb(62,172,50)"/>
<rect x="70.00" y="277.50" width="27.00" height="1.49" fill="rgb(32,152,42)"/>
<rect x="70.00" y="278.95" width="27.00" height="1.49" fill="rgb(62,172,50)"/>
<rect x="70.00" y="280.40" width="27.00" height="1.49" fill="rgb(38,160,46)"/>
<rect x="70.00" y="281.85" width="27.00" height="1.49" fill="rgb(62,172,50)"/>
<rect x="70.00" y="283.30" width="27.00" height="1.49" fill="rgb(62,172,50)"/>
<rect x="70.00" y="284.75" width="27.00" height="1.49" fill="rgb(38,160,46)"/>
<rect x="70.00" y="286.20" width="27.00" height="1.49" fill="rgb(38,160,46)"/>
<rect x="70.00" y="287.65" width="27.00" height="1.49" fill="rgb(38,160,46)"/>
<rect x="70.00" y="289.10" width="27.00" height="1.49" fill="rgb(52,178,56)"/>
<rect x="70.00" y="290.55" width="27.00" height="1.49" fill="rgb(52,178,56)"/>
<rect x="70.00" y="292.00" width="27.00" height="1.49" fill="rgb(52,178,56)"/>
<rect x="70.00" y="293.45" width="27.00" height="1.49" fill="rgb(32,152,42)"/>
<rect x="70.00" y="294.90" width="27.00" height="1.49" fill="rgb(32,152,42)"/>
<rect x="70.00" y="296.35" width="27.00" height="1.49" fill="rgb(38,160,46)"/>
<rect x="70.00" y="297.80" width="27.00" height="1.49" fill="rgb(38,160,46)"/>
<rect x="70.00" y="299.25" width="27.00" height="1.49" fill="rgb(38,160,46)"/>
<rect x="70.00" y="300.70" width="27.00" height="1.49" fill="rgb(52,178,56)"/>
<rect x="70.00" y="302.15" width="27.00" height="1.49" fill="rgb(62,172,50)"/>
<rect x="70.00" y="303.60" width="27.00" height="1.49" fill="rgb(62,172,50)"/>
<rect x="70.00" y="305.05" width="27.00" height="1.49" fill="rgb(32,152,42)"/>
<rect x="70.00" y="306.50" width="27.00" height="1.49" fill="rgb(32,152,42)"/>
<rect x="70.00" y="307.95" width="27.00" height="1.49" fill="rgb(32,152,42)"/>
<rect x="70.00" y="309.40" width="27.00" height="1.49" fill="rgb(62,172,50)"/>
<rect x="70.00" y="310.85" width="27.00" height="1.49" fill="rgb(62,172,50)"/>
<rect x="70.00" y="312.30" width="27.00" height="1.49" fill="rgb(42,165,50)"/>
<rect x="70.00" y="313.75" width="27.00" height="1.49" fill="rgb(42,165,50)"/>
<rect x="70.00" y="315.20" width="27.00" height="1.49" fill="rgb(62,172,50)"/>
<rect x="70.00" y="316.65" width="27.00" height="1.49" fill="rgb(62,172,50)"/>
<rect x="70.00" y="318.10" width="27.00" height="1.49" fill="rgb(32,152,42)"/>
<rect x="70.00" y="319.55" width="27.00" height="1.49" fill="rgb(42,165,50)"/>
<rect x="70.00" y="321.00" width="27.00" height="1.49" fill="rgb(32,152,42)"/>
<rect x="70.00" y="322.45" width="27.00" height="0.99" fill="rgb(32,152,42)"/>
</g>
<rect x="13" y="38.0" width="1.8" height="104.0" fill="#000"/>
<rect x="13" y="146.8" width="1.8" height="5.5" fill="#000"/>
<rect x="13" y="154.0" width="1.8" height="7.3" fill="#000"/>
<rect x="13" y="166.0" width="1.8" height="112.5" fill="#000"/>
<rect x="13" y="287.0" width="1.8" height="31.5" fill="#000"/>
<g font-family='"Liberation Sans", sans-serif' fill="#444">
<text x="10.4" y="99.4" font-size="8.6" text-anchor="end">I</text>
<text x="10.4" y="151.7" font-size="8.2" text-anchor="end">II</text>
<text x="10.4" y="162" font-size="8.6" text-anchor="end">III</text>
<text x="1.6" y="224.8" font-size="8.8" letter-spacing="-0.5">IV</text>
<text x="3.9" y="305.3" font-size="8.8">V</text>
</g>
<g font-family='"Liberation Sans", sans-serif' fill="#111" stroke="#111" stroke-width="0.12" font-size="6.5">
<text x="19" y="31.8">CD11b<tspan font-size="4" dy="-3">low</tspan></text>
<text x="57.5" y="31.8" text-anchor="middle">DP</text>
<text x="74.7" y="31.8">CD27<tspan font-size="4" dy="-3">low</tspan></text>
</g>
<g font-family='"Liberation Sans", sans-serif' font-weight="bold" fill="#000" font-size="12.2">
<text x="-0.3" y="8.7">A</text>
<text x="116.5" y="8.3">B</text>
</g>
<g font-family='"Liberation Sans", sans-serif' font-weight="bold" fill="#111">
<text x="143.5" y="11.1" font-size="8.9">Gene ontology analysis of cluster IV</text>
<text x="353.8" y="11.1" font-size="8.9">Gene ontology analysis of cluster I</text>
<text x="186" y="30.3" font-size="7.35" text-anchor="middle">Cell cycle</text>
<text x="187.4" y="134.1" font-size="7.25" text-anchor="middle">Organogenesis</text>
<text x="189.6" y="249.1" font-size="7.28" text-anchor="middle">T cell activation</text>
<text x="417.7" y="30.8" font-size="7.37" text-anchor="middle">Natural Killer cell mediated cytotoxicity</text>
<text x="409" y="133.5" font-size="7.3" text-anchor="middle">secretory pathway</text>
<text x="410.6" y="243.5" font-size="6.68" text-anchor="middle">Fc receptors, complement and inflammation</text>
</g>
<g fill="#000" stroke="none">
<rect x="128.30" y="38.70" width="1.8" height="70.20"/>
<rect x="128.30" y="107.15" width="106.20" height="1.7"/>
<rect x="126.00" y="38.50" width="3.2" height="1.4"/>
<rect x="126.00" y="48.36" width="3.2" height="1.4"/>
<rect x="126.00" y="58.21" width="3.2" height="1.4"/>
<rect x="126.00" y="68.07" width="3.2" height="1.4"/>
<rect x="126.00" y="77.93" width="3.2" height="1.4"/>
<rect x="126.00" y="87.79" width="3.2" height="1.4"/>
<rect x="126.00" y="97.64" width="3.2" height="1.4"/>
<rect x="126.00" y="107.50" width="3.2" height="1.4"/>
<rect x="144.80" y="106.30" width="3.4" height="4.6"/>
<rect x="179.90" y="106.30" width="3.4" height="4.6"/>
<rect x="214.60" y="106.30" width="3.4" height="4.6"/>
</g>
<g font-family='"Liberation Sans", sans-serif' font-weight="bold" fill="#222" font-size="4.40" text-anchor="end">
<text x="126.60" y="41.97">12</text>
<text x="126.60" y="51.83">11</text>
<text x="126.60" y="61.68">10</text>
<text x="126.60" y="71.54">9</text>
<text x="126.60" y="81.40">8</text>
<text x="126.60" y="91.25">7</text>
<text x="126.60" y="101.11">6</text>
<text x="126.60" y="110.97">5</text>
</g>
<text font-family='"Liberation Sans", sans-serif' font-weight="bold" fill="#222" font-size="5.60" text-anchor="middle" transform="translate(119.40 74.30) rotate(-90)">Log2 intensity value</text>
<g font-family='"Liberation Sans", sans-serif' font-weight="bold" fill="#222" font-size="4.7" letter-spacing="0.15">
<text x="140.00" y="116.10">CD11b<tspan font-size="3.8" letter-spacing="0.1" dx="0.3" dy="-2.3">low</tspan></text>
<text x="181.70" y="116.10" text-anchor="middle">DP</text>
<text x="209.80" y="116.10">CD27<tspan font-size="3.8" letter-spacing="0.1" dx="0.3" dy="-2.3">low</tspan></text>
</g>
<g stroke="#000" stroke-width="1.0" fill="none">
<polyline points="146.50,40.80 181.60,44.30 216.30,61.50"/>
<polyline points="146.50,40.80 181.60,48.50 216.30,67.80"/>
<polyline points="146.50,54.20 181.60,61.50 216.30,76.80"/>
<polyline points="146.50,61.60 181.60,62.80 216.30,79.50"/>
<polyline points="146.50,65.15 181.60,72.11 216.30,83.66"/>
<polyline points="146.50,66.82 181.60,73.60 216.30,83.12"/>
<polyline points="146.50,68.20 181.60,74.99 216.30,84.77"/>
<polyline points="146.50,70.46 181.60,75.79 216.30,83.61"/>
<polyline points="146.50,71.42 181.60,79.25 216.30,89.41"/>
<polyline points="146.50,73.02 181.60,81.46 216.30,93.25"/>
<polyline points="146.50,75.29 181.60,82.45 216.30,89.39"/>
<polyline points="146.50,76.31 181.60,83.16 216.30,89.52"/>
<polyline points="146.50,78.14 181.60,83.99 216.30,90.17"/>
<polyline points="146.50,80.07 181.60,86.61 216.30,97.67"/>
<polyline points="146.50,81.78 181.60,89.02 216.30,98.02"/>
<polyline points="146.50,83.58 181.60,90.18 216.30,97.85"/>
<polyline points="146.50,85.57 181.60,94.06 216.30,105.10"/>
<polyline points="146.50,86.94 181.60,93.04 216.30,100.42"/>
<polyline points="146.50,88.18 181.60,93.42 216.30,104.02"/>
<polyline points="146.50,89.94 181.60,97.91 216.30,106.23"/>
<polyline points="146.50,92.16 181.60,100.12 216.30,106.13"/>
</g>
<g fill="#000">
<rect x="144.75" y="39.05" width="3.50" height="3.50"/>
<path d="M181.60 42.35L183.55 45.86L179.65 45.86Z"/>
<path d="M216.30 63.45L218.25 59.94L214.35 59.94Z"/>
<rect x="144.75" y="39.05" width="3.50" height="3.50"/>
<path d="M181.60 46.55L183.55 50.06L179.65 50.06Z"/>
<path d="M216.30 69.75L218.25 66.24L214.35 66.24Z"/>
<rect x="144.75" y="52.45" width="3.50" height="3.50"/>
<path d="M181.60 59.55L183.55 63.06L179.65 63.06Z"/>
<path d="M216.30 78.75L218.25 75.24L214.35 75.24Z"/>
<rect x="144.75" y="59.85" width="3.50" height="3.50"/>
<path d="M181.60 60.85L183.55 64.36L179.65 64.36Z"/>
<path d="M216.30 81.45L218.25 77.94L214.35 77.94Z"/>
<rect x="144.75" y="63.40" width="3.50" height="3.50"/>
<path d="M181.60 70.16L183.55 73.67L179.65 73.67Z"/>
<path d="M216.30 85.61L218.25 82.10L214.35 82.10Z"/>
<rect x="144.75" y="65.07" width="3.50" height="3.50"/>
<path d="M181.60 71.65L183.55 75.16L179.65 75.16Z"/>
<path d="M216.30 85.07L218.25 81.56L214.35 81.56Z"/>
<rect x="144.75" y="66.45" width="3.50" height="3.50"/>
<path d="M181.60 73.04L183.55 76.55L179.65 76.55Z"/>
<path d="M216.30 86.72L218.25 83.21L214.35 83.21Z"/>
<rect x="144.75" y="68.71" width="3.50" height="3.50"/>
<path d="M181.60 73.84L183.55 77.35L179.65 77.35Z"/>
<path d="M216.30 85.56L218.25 82.05L214.35 82.05Z"/>
<rect x="144.75" y="69.67" width="3.50" height="3.50"/>
<path d="M181.60 77.30L183.55 80.81L179.65 80.81Z"/>
<path d="M216.30 91.36L218.25 87.85L214.35 87.85Z"/>
<rect x="144.75" y="71.27" width="3.50" height="3.50"/>
<path d="M181.60 79.51L183.55 83.02L179.65 83.02Z"/>
<path d="M216.30 95.20L218.25 91.69L214.35 91.69Z"/>
<rect x="144.75" y="73.54" width="3.50" height="3.50"/>
<path d="M181.60 80.50L183.55 84.01L179.65 84.01Z"/>
<path d="M216.30 91.34L218.25 87.83L214.35 87.83Z"/>
<rect x="144.75" y="74.56" width="3.50" height="3.50"/>
<path d="M181.60 81.21L183.55 84.72L179.65 84.72Z"/>
<path d="M216.30 91.47L218.25 87.96L214.35 87.96Z"/>
<rect x="144.75" y="76.39" width="3.50" height="3.50"/>
<path d="M181.60 82.04L183.55 85.55L179.65 85.55Z"/>
<path d="M216.30 92.12L218.25 88.61L214.35 88.61Z"/>
<rect x="144.75" y="78.32" width="3.50" height="3.50"/>
<path d="M181.60 84.66L183.55 88.17L179.65 88.17Z"/>
<path d="M216.30 99.62L218.25 96.11L214.35 96.11Z"/>
<rect x="144.75" y="80.03" width="3.50" height="3.50"/>
<path d="M181.60 87.07L183.55 90.58L179.65 90.58Z"/>
<path d="M216.30 99.97L218.25 96.46L214.35 96.46Z"/>
<rect x="144.75" y="81.83" width="3.50" height="3.50"/>
<path d="M181.60 88.23L183.55 91.74L179.65 91.74Z"/>
<path d="M216.30 99.80L218.25 96.29L214.35 96.29Z"/>
<rect x="144.75" y="83.82" width="3.50" height="3.50"/>
<path d="M181.60 92.11L183.55 95.62L179.65 95.62Z"/>
<path d="M216.30 107.05L218.25 103.54L214.35 103.54Z"/>
<rect x="144.75" y="85.19" width="3.50" height="3.50"/>
<path d="M181.60 91.09L183.55 94.60L179.65 94.60Z"/>
<path d="M216.30 102.37L218.25 98.86L214.35 98.86Z"/>
<rect x="144.75" y="86.43" width="3.50" height="3.50"/>
<path d="M181.60 91.47L183.55 94.98L179.65 94.98Z"/>
<path d="M216.30 105.97L218.25 102.46L214.35 102.46Z"/>
<rect x="144.75" y="88.19" width="3.50" height="3.50"/>
<path d="M181.60 95.96L183.55 99.47L179.65 99.47Z"/>
<path d="M216.30 108.18L218.25 104.67L214.35 104.67Z"/>
<rect x="144.75" y="90.41" width="3.50" height="3.50"/>
<path d="M181.60 98.17L183.55 101.68L179.65 101.68Z"/>
<path d="M216.30 108.08L218.25 104.57L214.35 104.57Z"/>
</g>
<rect x="241.02" y="35.02" width="77.95" height="73.15" fill="none" stroke="#000" stroke-width="1.85"/>
<g font-family='"Liberation Sans", sans-serif' fill="#1a1a1a" font-size="6.40" letter-spacing="0.05" text-anchor="middle">
<text x="253.72" y="43.50">Aurkb</text>
<text x="253.72" y="51.00">Birc5</text>
<text x="253.72" y="58.50">Bub1</text>
<text x="253.72" y="66.00">Bub1b</text>
<text x="253.72" y="73.50">Ccna2</text>
<text x="253.72" y="81.00">Ccnb1</text>
<text x="253.72" y="88.50">Ccnb2</text>
<text x="253.72" y="96.00">Cd28</text>
<text x="253.72" y="103.50">Cdc20</text>
<text x="278.72" y="43.50">Cdc2a</text>
<text x="278.72" y="51.00">Cdc6</text>
<text x="278.72" y="58.50">Cdca5</text>
<text x="278.72" y="66.00">Cdca8</text>
<text x="278.72" y="73.50">Cep55</text>
<text x="278.72" y="81.00">Espl1</text>
<text x="278.72" y="88.50">Hells</text>
<text x="278.72" y="96.00">Kif11</text>
<text x="278.72" y="103.50">Kntc1</text>
<text x="303.82" y="43.50">Mki67</text>
<text x="303.82" y="51.00">Mns1</text>
<text x="303.82" y="58.50">Ncapg2</text>
<text x="303.82" y="66.00">Ncaph</text>
<text x="303.82" y="73.50">Nuf2</text>
<text x="303.82" y="81.00">Rad51</text>
<text x="303.82" y="88.50">Spbc24</text>
<text x="303.82" y="96.00">Ube2c</text>
</g>
<g fill="#000" stroke="none">
<rect x="130.90" y="145.20" width="1.8" height="70.50"/>
<rect x="130.90" y="213.95" width="105.90" height="1.7"/>
<rect x="128.60" y="145.00" width="3.2" height="1.4"/>
<rect x="128.60" y="152.70" width="3.2" height="1.4"/>
<rect x="128.60" y="160.40" width="3.2" height="1.4"/>
<rect x="128.60" y="168.10" width="3.2" height="1.4"/>
<rect x="128.60" y="175.80" width="3.2" height="1.4"/>
<rect x="128.60" y="183.50" width="3.2" height="1.4"/>
<rect x="128.60" y="191.20" width="3.2" height="1.4"/>
<rect x="128.60" y="198.90" width="3.2" height="1.4"/>
<rect x="128.60" y="206.60" width="3.2" height="1.4"/>
<rect x="128.60" y="214.30" width="3.2" height="1.4"/>
<rect x="147.50" y="213.10" width="3.4" height="4.6"/>
<rect x="182.10" y="213.10" width="3.4" height="4.6"/>
<rect x="217.00" y="213.10" width="3.4" height="4.6"/>
</g>
<g font-family='"Liberation Sans", sans-serif' font-weight="bold" fill="#222" font-size="4.40" text-anchor="end">
<text x="129.20" y="148.47">12</text>
<text x="129.20" y="156.17">11</text>
<text x="129.20" y="163.87">10</text>
<text x="129.20" y="171.57">9</text>
<text x="129.20" y="179.27">8</text>
<text x="129.20" y="186.97">7</text>
<text x="129.20" y="194.67">6</text>
<text x="129.20" y="202.37">5</text>
<text x="129.20" y="210.07">4</text>
<text x="129.20" y="217.77">3</text>
</g>
<text font-family='"Liberation Sans", sans-serif' font-weight="bold" fill="#222" font-size="5.70" text-anchor="middle" transform="translate(119.40 176.60) rotate(-90)">Log2 intensity value</text>
<g font-family='"Liberation Sans", sans-serif' font-weight="bold" fill="#222" font-size="4.7" letter-spacing="0.15">
<text x="140.00" y="223.30">CD11b<tspan font-size="3.8" letter-spacing="0.1" dx="0.3" dy="-2.3">low</tspan></text>
<text x="182.30" y="223.30" text-anchor="middle">DP</text>
<text x="210.60" y="223.30">CD27<tspan font-size="3.8" letter-spacing="0.1" dx="0.3" dy="-2.3">low</tspan></text>
</g>
<g stroke="#000" stroke-width="1.0" fill="none">
<polyline points="149.20,146.30 183.80,147.50 218.70,157.50"/>
<polyline points="149.20,148.80 183.80,159.50 218.70,172.50"/>
<polyline points="149.20,151.30 183.80,167.50 218.70,177.50"/>
<polyline points="149.20,153.80 183.80,162.00 218.70,175.00"/>
<polyline points="149.20,156.30 183.80,166.50 218.70,180.00"/>
<polyline points="149.20,165.20 183.80,167.00 218.70,178.50"/>
<polyline points="149.20,170.50 183.80,175.40 218.70,179.50"/>
<polyline points="149.20,172.50 183.80,183.80 218.70,192.30"/>
<polyline points="149.20,174.50 183.80,185.50 218.70,193.50"/>
<polyline points="149.20,180.00 183.80,188.50 218.70,191.50"/>
<polyline points="149.20,182.80 183.80,191.50 218.70,197.00"/>
<polyline points="149.20,191.20 183.80,200.00 218.70,200.50"/>
<polyline points="149.20,193.50 183.80,202.50 218.70,205.00"/>
<polyline points="149.20,196.30 183.80,205.50 218.70,207.50"/>
<polyline points="149.20,198.20 183.80,207.50 218.70,210.00"/>
<polyline points="149.20,200.00 183.80,210.00 218.70,212.50"/>
</g>
<g fill="#000">
<rect x="147.45" y="144.55" width="3.50" height="3.50"/>
<path d="M183.80 145.55L185.75 149.06L181.85 149.06Z"/>
<path d="M218.70 159.45L220.65 155.94L216.75 155.94Z"/>
<rect x="147.45" y="147.05" width="3.50" height="3.50"/>
<path d="M183.80 157.55L185.75 161.06L181.85 161.06Z"/>
<path d="M218.70 174.45L220.65 170.94L216.75 170.94Z"/>
<rect x="147.45" y="149.55" width="3.50" height="3.50"/>
<path d="M183.80 165.55L185.75 169.06L181.85 169.06Z"/>
<path d="M218.70 179.45L220.65 175.94L216.75 175.94Z"/>
<rect x="147.45" y="152.05" width="3.50" height="3.50"/>
<path d="M183.80 160.05L185.75 163.56L181.85 163.56Z"/>
<path d="M218.70 176.95L220.65 173.44L216.75 173.44Z"/>
<rect x="147.45" y="154.55" width="3.50" height="3.50"/>
<path d="M183.80 164.55L185.75 168.06L181.85 168.06Z"/>
<path d="M218.70 181.95L220.65 178.44L216.75 178.44Z"/>
<rect x="147.45" y="163.45" width="3.50" height="3.50"/>
<path d="M183.80 165.05L185.75 168.56L181.85 168.56Z"/>
<path d="M218.70 180.45L220.65 176.94L216.75 176.94Z"/>
<rect x="147.45" y="168.75" width="3.50" height="3.50"/>
<path d="M183.80 173.45L185.75 176.96L181.85 176.96Z"/>
<path d="M218.70 181.45L220.65 177.94L216.75 177.94Z"/>
<rect x="147.45" y="170.75" width="3.50" height="3.50"/>
<path d="M183.80 181.85L185.75 185.36L181.85 185.36Z"/>
<path d="M218.70 194.25L220.65 190.74L216.75 190.74Z"/>
<rect x="147.45" y="172.75" width="3.50" height="3.50"/>
<path d="M183.80 183.55L185.75 187.06L181.85 187.06Z"/>
<path d="M218.70 195.45L220.65 191.94L216.75 191.94Z"/>
<rect x="147.45" y="178.25" width="3.50" height="3.50"/>
<path d="M183.80 186.55L185.75 190.06L181.85 190.06Z"/>
<path d="M218.70 193.45L220.65 189.94L216.75 189.94Z"/>
<rect x="147.45" y="181.05" width="3.50" height="3.50"/>
<path d="M183.80 189.55L185.75 193.06L181.85 193.06Z"/>
<path d="M218.70 198.95L220.65 195.44L216.75 195.44Z"/>
<rect x="147.45" y="189.45" width="3.50" height="3.50"/>
<path d="M183.80 198.05L185.75 201.56L181.85 201.56Z"/>
<path d="M218.70 202.45L220.65 198.94L216.75 198.94Z"/>
<rect x="147.45" y="191.75" width="3.50" height="3.50"/>
<path d="M183.80 200.55L185.75 204.06L181.85 204.06Z"/>
<path d="M218.70 206.95L220.65 203.44L216.75 203.44Z"/>
<rect x="147.45" y="194.55" width="3.50" height="3.50"/>
<path d="M183.80 203.55L185.75 207.06L181.85 207.06Z"/>
<path d="M218.70 209.45L220.65 205.94L216.75 205.94Z"/>
<rect x="147.45" y="196.45" width="3.50" height="3.50"/>
<path d="M183.80 205.55L185.75 209.06L181.85 209.06Z"/>
<path d="M218.70 211.95L220.65 208.44L216.75 208.44Z"/>
<rect x="147.45" y="198.25" width="3.50" height="3.50"/>
<path d="M183.80 208.05L185.75 211.56L181.85 211.56Z"/>
<path d="M218.70 214.45L220.65 210.94L216.75 210.94Z"/>
</g>
<rect x="242.52" y="145.62" width="49.35" height="69.45" fill="none" stroke="#000" stroke-width="1.85"/>
<g font-family='"Liberation Sans", sans-serif' fill="#1a1a1a" font-size="6.40" letter-spacing="0.05" text-anchor="middle">
<text x="254.93" y="152.70">Bmp2</text>
<text x="254.93" y="160.20">Bmp7</text>
<text x="254.93" y="167.70">Cish</text>
<text x="254.93" y="175.20">Dll1</text>
<text x="254.93" y="182.70">Ifitm1</text>
<text x="254.93" y="190.20">Il2</text>
<text x="254.93" y="197.70">Il7r</text>
<text x="254.93" y="205.20">Kit</text>
<text x="277.32" y="152.70">Lta</text>
<text x="277.32" y="160.20">Ltb</text>
<text x="277.32" y="167.70">Maff</text>
<text x="277.32" y="175.20">Mtss1</text>
<text x="277.32" y="182.70">Ncapg2</text>
<text x="277.32" y="190.20">Odc1</text>
<text x="277.32" y="197.70">Socs3</text>
<text x="277.32" y="205.20">Sox6</text>
<text x="277.32" y="212.70">Tcf7</text>
</g>
<g fill="#000" stroke="none">
<rect x="131.60" y="253.50" width="1.8" height="70.20"/>
<rect x="131.60" y="321.95" width="106.00" height="1.7"/>
<rect x="129.30" y="253.30" width="3.2" height="1.4"/>
<rect x="129.30" y="261.93" width="3.2" height="1.4"/>
<rect x="129.30" y="270.55" width="3.2" height="1.4"/>
<rect x="129.30" y="279.18" width="3.2" height="1.4"/>
<rect x="129.30" y="287.80" width="3.2" height="1.4"/>
<rect x="129.30" y="296.43" width="3.2" height="1.4"/>
<rect x="129.30" y="305.05" width="3.2" height="1.4"/>
<rect x="129.30" y="313.68" width="3.2" height="1.4"/>
<rect x="129.30" y="322.30" width="3.2" height="1.4"/>
<rect x="148.30" y="321.10" width="3.4" height="4.6"/>
<rect x="183.10" y="321.10" width="3.4" height="4.6"/>
<rect x="218.00" y="321.10" width="3.4" height="4.6"/>
</g>
<g font-family='"Liberation Sans", sans-serif' font-weight="bold" fill="#222" font-size="4.40" text-anchor="end">
<text x="129.90" y="256.77">12</text>
<text x="129.90" y="265.39">11</text>
<text x="129.90" y="274.02">10</text>
<text x="129.90" y="282.64">9</text>
<text x="129.90" y="291.27">8</text>
<text x="129.90" y="299.89">7</text>
<text x="129.90" y="308.52">6</text>
<text x="129.90" y="317.14">5</text>
<text x="129.90" y="325.77">4</text>
</g>
<text font-family='"Liberation Sans", sans-serif' font-weight="bold" fill="#222" font-size="5.70" text-anchor="middle" transform="translate(119.40 285.70) rotate(-90)">Log2 intensity value</text>
<g font-family='"Liberation Sans", sans-serif' font-weight="bold" fill="#222" font-size="4.7" letter-spacing="0.15">
<text x="140.60" y="332.20">CD11b<tspan font-size="3.8" letter-spacing="0.1" dx="0.3" dy="-2.3">low</tspan></text>
<text x="182.80" y="332.20" text-anchor="middle">DP</text>
<text x="211.50" y="332.20">CD27<tspan font-size="3.8" letter-spacing="0.1" dx="0.3" dy="-2.3">low</tspan></text>
</g>
<g stroke="#000" stroke-width="1.0" fill="none">
<polyline points="150.00,257.75 184.80,299.00 219.70,309.00"/>
<polyline points="150.00,257.75 184.80,266.50 219.70,281.50"/>
<polyline points="150.00,264.00 184.80,267.00 219.70,284.00"/>
<polyline points="150.00,266.50 184.80,274.00 219.70,290.25"/>
<polyline points="150.00,268.50 184.80,276.00 219.70,292.75"/>
<polyline points="150.00,272.00 184.80,284.00 219.70,295.25"/>
<polyline points="150.00,274.00 184.80,286.00 219.70,299.00"/>
<polyline points="150.00,282.75 184.80,287.75 219.70,292.75"/>
<polyline points="150.00,284.50 184.80,292.75 219.70,299.00"/>
<polyline points="150.00,286.50 184.80,297.00 219.70,307.75"/>
<polyline points="150.00,289.00 184.80,301.50 219.70,310.25"/>
<polyline points="150.00,293.50 184.80,309.00 219.70,314.00"/>
<polyline points="150.00,299.00 184.80,312.75 219.70,310.25"/>
<polyline points="150.00,305.25 184.80,315.25 219.70,314.00"/>
<polyline points="150.00,311.00 184.80,320.25 219.70,320.25"/>
</g>
<g fill="#000">
<rect x="148.25" y="256.00" width="3.50" height="3.50"/>
<path d="M184.80 297.05L186.75 300.56L182.85 300.56Z"/>
<path d="M219.70 310.95L221.65 307.44L217.75 307.44Z"/>
<rect x="148.25" y="256.00" width="3.50" height="3.50"/>
<path d="M184.80 264.55L186.75 268.06L182.85 268.06Z"/>
<path d="M219.70 283.45L221.65 279.94L217.75 279.94Z"/>
<rect x="148.25" y="262.25" width="3.50" height="3.50"/>
<path d="M184.80 265.05L186.75 268.56L182.85 268.56Z"/>
<path d="M219.70 285.95L221.65 282.44L217.75 282.44Z"/>
<rect x="148.25" y="264.75" width="3.50" height="3.50"/>
<path d="M184.80 272.05L186.75 275.56L182.85 275.56Z"/>
<path d="M219.70 292.20L221.65 288.69L217.75 288.69Z"/>
<rect x="148.25" y="266.75" width="3.50" height="3.50"/>
<path d="M184.80 274.05L186.75 277.56L182.85 277.56Z"/>
<path d="M219.70 294.70L221.65 291.19L217.75 291.19Z"/>
<rect x="148.25" y="270.25" width="3.50" height="3.50"/>
<path d="M184.80 282.05L186.75 285.56L182.85 285.56Z"/>
<path d="M219.70 297.20L221.65 293.69L217.75 293.69Z"/>
<rect x="148.25" y="272.25" width="3.50" height="3.50"/>
<path d="M184.80 284.05L186.75 287.56L182.85 287.56Z"/>
<path d="M219.70 300.95L221.65 297.44L217.75 297.44Z"/>
<rect x="148.25" y="281.00" width="3.50" height="3.50"/>
<path d="M184.80 285.80L186.75 289.31L182.85 289.31Z"/>
<path d="M219.70 294.70L221.65 291.19L217.75 291.19Z"/>
<rect x="148.25" y="282.75" width="3.50" height="3.50"/>
<path d="M184.80 290.80L186.75 294.31L182.85 294.31Z"/>
<path d="M219.70 300.95L221.65 297.44L217.75 297.44Z"/>
<rect x="148.25" y="284.75" width="3.50" height="3.50"/>
<path d="M184.80 295.05L186.75 298.56L182.85 298.56Z"/>
<path d="M219.70 309.70L221.65 306.19L217.75 306.19Z"/>
<rect x="148.25" y="287.25" width="3.50" height="3.50"/>
<path d="M184.80 299.55L186.75 303.06L182.85 303.06Z"/>
<path d="M219.70 312.20L221.65 308.69L217.75 308.69Z"/>
<rect x="148.25" y="291.75" width="3.50" height="3.50"/>
<path d="M184.80 307.05L186.75 310.56L182.85 310.56Z"/>
<path d="M219.70 315.95L221.65 312.44L217.75 312.44Z"/>
<rect x="148.25" y="297.25" width="3.50" height="3.50"/>
<path d="M184.80 310.80L186.75 314.31L182.85 314.31Z"/>
<path d="M219.70 312.20L221.65 308.69L217.75 308.69Z"/>
<rect x="148.25" y="303.50" width="3.50" height="3.50"/>
<path d="M184.80 313.30L186.75 316.81L182.85 316.81Z"/>
<path d="M219.70 315.95L221.65 312.44L217.75 312.44Z"/>
<rect x="148.25" y="309.25" width="3.50" height="3.50"/>
<path d="M184.80 318.30L186.75 321.81L182.85 321.81Z"/>
<path d="M219.70 322.20L221.65 318.69L217.75 318.69Z"/>
</g>
<rect x="243.62" y="258.62" width="47.85" height="63.95" fill="none" stroke="#000" stroke-width="1.85"/>
<g font-family='"Liberation Sans", sans-serif' fill="#1a1a1a" font-size="6.40" letter-spacing="0.05" text-anchor="middle">
<text x="255.62" y="265.30">Btla</text>
<text x="255.62" y="272.90">Cd27</text>
<text x="255.62" y="280.50">Cd28</text>
<text x="255.62" y="288.10">Cd3d</text>
<text x="255.62" y="295.70">Cd3g</text>
<text x="255.62" y="303.30">Crtam</text>
<text x="255.62" y="310.90">Ctla4</text>
<text x="255.62" y="318.50">Il2</text>
<text x="278.12" y="265.30">Il7r</text>
<text x="278.12" y="272.90">Lta</text>
<text x="278.12" y="280.50">Ltb</text>
<text x="278.12" y="288.10">Pdk1</text>
<text x="278.12" y="295.70">Rel</text>
<text x="278.12" y="303.30">Tcrg</text>
<text x="278.12" y="310.90">Tcrg-C</text>
<text x="278.12" y="318.50">Thy1</text>
</g>
<g fill="#000" stroke="none">
<rect x="349.90" y="38.20" width="1.8" height="70.20"/>
<rect x="349.90" y="106.65" width="106.90" height="1.7"/>
<rect x="347.60" y="38.00" width="3.2" height="1.4"/>
<rect x="347.60" y="44.27" width="3.2" height="1.4"/>
<rect x="347.60" y="50.55" width="3.2" height="1.4"/>
<rect x="347.60" y="56.82" width="3.2" height="1.4"/>
<rect x="347.60" y="63.09" width="3.2" height="1.4"/>
<rect x="347.60" y="69.36" width="3.2" height="1.4"/>
<rect x="347.60" y="75.64" width="3.2" height="1.4"/>
<rect x="347.60" y="81.91" width="3.2" height="1.4"/>
<rect x="347.60" y="88.18" width="3.2" height="1.4"/>
<rect x="347.60" y="94.45" width="3.2" height="1.4"/>
<rect x="347.60" y="100.73" width="3.2" height="1.4"/>
<rect x="347.60" y="107.00" width="3.2" height="1.4"/>
<rect x="367.50" y="105.80" width="3.4" height="4.6"/>
<rect x="402.30" y="105.80" width="3.4" height="4.6"/>
<rect x="437.10" y="105.80" width="3.4" height="4.6"/>
</g>
<g font-family='"Liberation Sans", sans-serif' font-weight="bold" fill="#222" font-size="4.20" text-anchor="end">
<text x="348.20" y="41.32">15</text>
<text x="348.20" y="47.60">14</text>
<text x="348.20" y="53.87">13</text>
<text x="348.20" y="60.14">12</text>
<text x="348.20" y="66.41">11</text>
<text x="348.20" y="72.69">10</text>
<text x="348.20" y="78.96">9</text>
<text x="348.20" y="85.23">8</text>
<text x="348.20" y="91.51">7</text>
<text x="348.20" y="97.78">6</text>
<text x="348.20" y="104.05">5</text>
<text x="348.20" y="110.32">4</text>
</g>
<text font-family='"Liberation Sans", sans-serif' font-weight="bold" fill="#222" font-size="5.40" text-anchor="middle" transform="translate(338.60 72.30) rotate(-90)">Log2 intensity value</text>
<g font-family='"Liberation Sans", sans-serif' font-weight="bold" fill="#222" font-size="4.7" letter-spacing="0.15">
<text x="360.60" y="116.40">CD11b<tspan font-size="3.8" letter-spacing="0.1" dx="0.3" dy="-2.3">low</tspan></text>
<text x="402.90" y="116.40" text-anchor="middle">DP</text>
<text x="431.00" y="116.40">CD27<tspan font-size="3.8" letter-spacing="0.1" dx="0.3" dy="-2.3">low</tspan></text>
</g>
<g stroke="#000" stroke-width="1.0" fill="none">
<polyline points="369.20,53.30 404.00,48.00 438.80,44.00"/>
<polyline points="369.20,54.50 404.00,50.50 438.80,45.50"/>
<polyline points="369.20,61.00 404.00,49.50 438.80,46.00"/>
<polyline points="369.20,62.00 404.00,58.50 438.80,54.00"/>
<polyline points="369.20,63.50 404.00,60.50 438.80,56.00"/>
<polyline points="369.20,65.00 404.00,63.00 438.80,58.00"/>
<polyline points="369.20,75.80 404.00,73.20 438.80,66.50"/>
<polyline points="369.20,78.00 404.00,75.00 438.80,68.50"/>
<polyline points="369.20,80.00 404.00,77.00 438.80,70.50"/>
<polyline points="369.20,85.00 404.00,78.50 438.80,71.50"/>
<polyline points="369.20,87.50 404.00,80.50 438.80,72.20"/>
<polyline points="369.20,95.00 404.00,92.70 438.80,87.00"/>
<polyline points="369.20,103.20 404.00,100.50 438.80,95.00"/>
<polyline points="369.20,105.50 404.00,103.50 438.80,97.00"/>
<polyline points="369.20,107.20 404.00,106.50 438.80,98.20"/>
</g>
<g fill="#000">
<rect x="367.45" y="51.55" width="3.50" height="3.50"/>
<path d="M404.00 46.05L405.95 49.56L402.05 49.56Z"/>
<path d="M438.80 45.95L440.75 42.44L436.85 42.44Z"/>
<rect x="367.45" y="52.75" width="3.50" height="3.50"/>
<path d="M404.00 48.55L405.95 52.06L402.05 52.06Z"/>
<path d="M438.80 47.45L440.75 43.94L436.85 43.94Z"/>
<rect x="367.45" y="59.25" width="3.50" height="3.50"/>
<path d="M404.00 47.55L405.95 51.06L402.05 51.06Z"/>
<path d="M438.80 47.95L440.75 44.44L436.85 44.44Z"/>
<rect x="367.45" y="60.25" width="3.50" height="3.50"/>
<path d="M404.00 56.55L405.95 60.06L402.05 60.06Z"/>
<path d="M438.80 55.95L440.75 52.44L436.85 52.44Z"/>
<rect x="367.45" y="61.75" width="3.50" height="3.50"/>
<path d="M404.00 58.55L405.95 62.06L402.05 62.06Z"/>
<path d="M438.80 57.95L440.75 54.44L436.85 54.44Z"/>
<rect x="367.45" y="63.25" width="3.50" height="3.50"/>
<path d="M404.00 61.05L405.95 64.56L402.05 64.56Z"/>
<path d="M438.80 59.95L440.75 56.44L436.85 56.44Z"/>
<rect x="367.45" y="74.05" width="3.50" height="3.50"/>
<path d="M404.00 71.25L405.95 74.76L402.05 74.76Z"/>
<path d="M438.80 68.45L440.75 64.94L436.85 64.94Z"/>
<rect x="367.45" y="76.25" width="3.50" height="3.50"/>
<path d="M404.00 73.05L405.95 76.56L402.05 76.56Z"/>
<path d="M438.80 70.45L440.75 66.94L436.85 66.94Z"/>
<rect x="367.45" y="78.25" width="3.50" height="3.50"/>
<path d="M404.00 75.05L405.95 78.56L402.05 78.56Z"/>
<path d="M438.80 72.45L440.75 68.94L436.85 68.94Z"/>
<rect x="367.45" y="83.25" width="3.50" height="3.50"/>
<path d="M404.00 76.55L405.95 80.06L402.05 80.06Z"/>
<path d="M438.80 73.45L440.75 69.94L436.85 69.94Z"/>
<rect x="367.45" y="85.75" width="3.50" height="3.50"/>
<path d="M404.00 78.55L405.95 82.06L402.05 82.06Z"/>
<path d="M438.80 74.15L440.75 70.64L436.85 70.64Z"/>
<rect x="367.45" y="93.25" width="3.50" height="3.50"/>
<path d="M404.00 90.75L405.95 94.26L402.05 94.26Z"/>
<path d="M438.80 88.95L440.75 85.44L436.85 85.44Z"/>
<rect x="367.45" y="101.45" width="3.50" height="3.50"/>
<path d="M404.00 98.55L405.95 102.06L402.05 102.06Z"/>
<path d="M438.80 96.95L440.75 93.44L436.85 93.44Z"/>
<rect x="367.45" y="103.75" width="3.50" height="3.50"/>
<path d="M404.00 101.55L405.95 105.06L402.05 105.06Z"/>
<path d="M438.80 98.95L440.75 95.44L436.85 95.44Z"/>
<rect x="367.45" y="105.45" width="3.50" height="3.50"/>
<path d="M404.00 104.55L405.95 108.06L402.05 108.06Z"/>
<path d="M438.80 100.15L440.75 96.64L436.85 96.64Z"/>
</g>
<rect x="461.52" y="51.32" width="55.15" height="55.55" fill="none" stroke="#000" stroke-width="1.85"/>
<g font-family='"Liberation Sans", sans-serif' fill="#1a1a1a" font-size="6.40" letter-spacing="0.05" text-anchor="middle">
<text x="473.92" y="58.40">Cd48</text>
<text x="473.92" y="66.05">Clec2d</text>
<text x="473.92" y="73.70">Dapk2</text>
<text x="473.92" y="81.35">Fasl</text>
<text x="474.22" y="89.00">Gzmb</text>
<text x="473.92" y="96.65">Klrc1</text>
<text x="473.92" y="104.30">Klrc2</text>
<text x="497.62" y="58.40">Klrc3</text>
<text x="497.62" y="66.05">Ncr1</text>
<text x="497.62" y="73.70">Osm</text>
<text x="497.62" y="81.35">Prf1</text>
<text x="499.73" y="89.00">Serpinb9b</text>
<text x="497.62" y="96.65">Tbx21</text>
<text x="497.62" y="104.30">Tnfsf13</text>
</g>
<g fill="#000" stroke="none">
<rect x="349.50" y="143.70" width="1.8" height="70.30"/>
<rect x="349.50" y="212.25" width="107.30" height="1.7"/>
<rect x="347.20" y="143.50" width="3.2" height="1.4"/>
<rect x="347.20" y="155.02" width="3.2" height="1.4"/>
<rect x="347.20" y="166.53" width="3.2" height="1.4"/>
<rect x="347.20" y="178.05" width="3.2" height="1.4"/>
<rect x="347.20" y="189.57" width="3.2" height="1.4"/>
<rect x="347.20" y="201.08" width="3.2" height="1.4"/>
<rect x="347.20" y="212.60" width="3.2" height="1.4"/>
<rect x="367.50" y="211.40" width="3.4" height="4.6"/>
<rect x="402.30" y="211.40" width="3.4" height="4.6"/>
<rect x="437.30" y="211.40" width="3.4" height="4.6"/>
</g>
<g font-family='"Liberation Sans", sans-serif' font-weight="bold" fill="#222" font-size="4.40" text-anchor="end">
<text x="347.80" y="146.97">10</text>
<text x="347.80" y="158.48">9</text>
<text x="347.80" y="170.00">8</text>
<text x="347.80" y="181.52">7</text>
<text x="347.80" y="193.03">6</text>
<text x="347.80" y="204.55">5</text>
<text x="347.80" y="216.07">4</text>
</g>
<text font-family='"Liberation Sans", sans-serif' font-weight="bold" fill="#222" font-size="5.05" text-anchor="middle" transform="translate(338.60 180.00) rotate(-90)">Log2 intensity value</text>
<g font-family='"Liberation Sans", sans-serif' font-weight="bold" fill="#222" font-size="4.7" letter-spacing="0.15">
<text x="361.70" y="222.60">CD11b<tspan font-size="3.8" letter-spacing="0.1" dx="0.3" dy="-2.3">low</tspan></text>
<text x="403.70" y="222.60" text-anchor="middle">DP</text>
<text x="432.50" y="222.60">CD27<tspan font-size="3.8" letter-spacing="0.1" dx="0.3" dy="-2.3">low</tspan></text>
</g>
<g stroke="#000" stroke-width="1.0" fill="none">
<polyline points="369.20,158.10 404.00,149.00 439.00,142.60"/>
<polyline points="369.20,159.00 404.00,154.70 439.00,144.50"/>
<polyline points="369.20,160.50 404.00,156.50 439.00,146.50"/>
<polyline points="369.20,161.50 404.00,158.10 439.00,148.40"/>
<polyline points="369.20,168.30 404.00,167.10 439.00,157.70"/>
<polyline points="369.20,170.50 404.00,169.00 439.00,160.00"/>
<polyline points="369.20,172.80 404.00,174.00 439.00,168.20"/>
<polyline points="369.20,180.70 404.00,170.00 439.00,163.50"/>
<polyline points="369.20,186.40 404.00,181.90 439.00,165.50"/>
<polyline points="369.20,188.60 404.00,183.00 439.00,166.50"/>
<polyline points="369.20,194.30 404.00,187.50 439.00,178.60"/>
<polyline points="369.20,201.10 404.00,197.70 439.00,182.10"/>
<polyline points="369.20,210.10 404.00,211.30 439.00,190.20"/>
<polyline points="369.20,212.40 404.00,212.40 439.00,212.70"/>
</g>
<g fill="#000">
<rect x="367.45" y="156.35" width="3.50" height="3.50"/>
<path d="M404.00 147.05L405.95 150.56L402.05 150.56Z"/>
<path d="M439.00 144.55L440.95 141.04L437.05 141.04Z"/>
<rect x="367.45" y="157.25" width="3.50" height="3.50"/>
<path d="M404.00 152.75L405.95 156.26L402.05 156.26Z"/>
<path d="M439.00 146.45L440.95 142.94L437.05 142.94Z"/>
<rect x="367.45" y="158.75" width="3.50" height="3.50"/>
<path d="M404.00 154.55L405.95 158.06L402.05 158.06Z"/>
<path d="M439.00 148.45L440.95 144.94L437.05 144.94Z"/>
<rect x="367.45" y="159.75" width="3.50" height="3.50"/>
<path d="M404.00 156.15L405.95 159.66L402.05 159.66Z"/>
<path d="M439.00 150.35L440.95 146.84L437.05 146.84Z"/>
<rect x="367.45" y="166.55" width="3.50" height="3.50"/>
<path d="M404.00 165.15L405.95 168.66L402.05 168.66Z"/>
<path d="M439.00 159.65L440.95 156.14L437.05 156.14Z"/>
<rect x="367.45" y="168.75" width="3.50" height="3.50"/>
<path d="M404.00 167.05L405.95 170.56L402.05 170.56Z"/>
<path d="M439.00 161.95L440.95 158.44L437.05 158.44Z"/>
<rect x="367.45" y="171.05" width="3.50" height="3.50"/>
<path d="M404.00 172.05L405.95 175.56L402.05 175.56Z"/>
<path d="M439.00 170.15L440.95 166.64L437.05 166.64Z"/>
<rect x="367.45" y="178.95" width="3.50" height="3.50"/>
<path d="M404.00 168.05L405.95 171.56L402.05 171.56Z"/>
<path d="M439.00 165.45L440.95 161.94L437.05 161.94Z"/>
<rect x="367.45" y="184.65" width="3.50" height="3.50"/>
<path d="M404.00 179.95L405.95 183.46L402.05 183.46Z"/>
<path d="M439.00 167.45L440.95 163.94L437.05 163.94Z"/>
<rect x="367.45" y="186.85" width="3.50" height="3.50"/>
<path d="M404.00 181.05L405.95 184.56L402.05 184.56Z"/>
<path d="M439.00 168.45L440.95 164.94L437.05 164.94Z"/>
<rect x="367.45" y="192.55" width="3.50" height="3.50"/>
<path d="M404.00 185.55L405.95 189.06L402.05 189.06Z"/>
<path d="M439.00 180.55L440.95 177.04L437.05 177.04Z"/>
<rect x="367.45" y="199.35" width="3.50" height="3.50"/>
<path d="M404.00 195.75L405.95 199.26L402.05 199.26Z"/>
<path d="M439.00 184.05L440.95 180.54L437.05 180.54Z"/>
<rect x="367.45" y="208.35" width="3.50" height="3.50"/>
<path d="M404.00 209.35L405.95 212.86L402.05 212.86Z"/>
<path d="M439.00 192.15L440.95 188.64L437.05 188.64Z"/>
<rect x="367.45" y="210.65" width="3.50" height="3.50"/>
<path d="M404.00 210.45L405.95 213.96L402.05 213.96Z"/>
<path d="M439.00 214.65L440.95 211.14L437.05 211.14Z"/>
</g>
<rect x="458.02" y="153.32" width="60.45" height="49.05" fill="none" stroke="#000" stroke-width="1.85"/>
<g font-family='"Liberation Sans", sans-serif' fill="#1a1a1a" font-size="6.40" letter-spacing="0.05" text-anchor="middle">
<text x="474.22" y="159.80">Arfl4</text>
<text x="474.22" y="167.45">Dnajc14</text>
<text x="474.22" y="175.10">Gnptab</text>
<text x="474.22" y="182.75">Septin5</text>
<text x="474.22" y="190.40">Lat2</text>
<text x="474.22" y="198.05">Plekhf1</text>
<text x="502.72" y="159.80">Rab2</text>
<text x="502.72" y="167.45">Rab6b</text>
<text x="502.72" y="175.10">Selenbp1</text>
<text x="502.72" y="182.75">Sytl3</text>
<text x="502.72" y="190.40">Trappc2</text>
<text x="502.72" y="198.05">Tubb2b</text>
</g>
<g fill="#000" stroke="none">
<rect x="351.10" y="252.70" width="1.8" height="70.70"/>
<rect x="351.10" y="321.65" width="105.70" height="1.7"/>
<rect x="348.80" y="252.50" width="3.2" height="1.4"/>
<rect x="348.80" y="262.43" width="3.2" height="1.4"/>
<rect x="348.80" y="272.36" width="3.2" height="1.4"/>
<rect x="348.80" y="282.29" width="3.2" height="1.4"/>
<rect x="348.80" y="292.21" width="3.2" height="1.4"/>
<rect x="348.80" y="302.14" width="3.2" height="1.4"/>
<rect x="348.80" y="312.07" width="3.2" height="1.4"/>
<rect x="348.80" y="322.00" width="3.2" height="1.4"/>
<rect x="367.50" y="320.80" width="3.4" height="4.6"/>
<rect x="402.30" y="320.80" width="3.4" height="4.6"/>
<rect x="437.10" y="320.80" width="3.4" height="4.6"/>
</g>
<g font-family='"Liberation Sans", sans-serif' font-weight="bold" fill="#222" font-size="4.40" text-anchor="end">
<text x="349.40" y="255.97">12</text>
<text x="349.40" y="265.90">11</text>
<text x="349.40" y="275.83">10</text>
<text x="349.40" y="285.75">9</text>
<text x="349.40" y="295.68">8</text>
<text x="349.40" y="305.61">7</text>
<text x="349.40" y="315.54">6</text>
<text x="349.40" y="325.47">5</text>
</g>
<text font-family='"Liberation Sans", sans-serif' font-weight="bold" fill="#222" font-size="5.40" text-anchor="middle" transform="translate(339.00 289.50) rotate(-90)">Log2 intensity value</text>
<g font-family='"Liberation Sans", sans-serif' font-weight="bold" fill="#222" font-size="4.7" letter-spacing="0.15">
<text x="361.10" y="330.40">CD11b<tspan font-size="3.8" letter-spacing="0.1" dx="0.3" dy="-2.3">low</tspan></text>
<text x="403.20" y="330.40" text-anchor="middle">DP</text>
<text x="432.10" y="330.40">CD27<tspan font-size="3.8" letter-spacing="0.1" dx="0.3" dy="-2.3">low</tspan></text>
</g>
<g stroke="#000" stroke-width="1.0" fill="none">
<polyline points="369.20,264.70 404.00,258.50 438.80,254.50"/>
<polyline points="369.20,266.00 404.00,260.30 438.80,258.50"/>
<polyline points="369.20,268.50 404.00,263.50 438.80,254.80"/>
<polyline points="369.20,269.30 404.00,264.80 438.80,258.80"/>
<polyline points="369.20,281.20 404.00,274.90 438.80,270.00"/>
<polyline points="369.20,304.00 404.00,294.00 438.80,290.50"/>
<polyline points="369.20,310.50 404.00,289.20 438.80,275.50"/>
<polyline points="369.20,312.20 404.00,301.50 438.80,298.50"/>
<polyline points="369.20,314.00 404.00,303.00 438.80,300.50"/>
<polyline points="369.20,316.00 404.00,304.20 438.80,302.30"/>
<polyline points="369.20,318.00 404.00,308.00 438.80,304.80"/>
<polyline points="369.20,317.00 404.00,309.80 438.80,307.30"/>
</g>
<g fill="#000">
<rect x="367.45" y="262.95" width="3.50" height="3.50"/>
<path d="M404.00 256.55L405.95 260.06L402.05 260.06Z"/>
<path d="M438.80 256.45L440.75 252.94L436.85 252.94Z"/>
<rect x="367.45" y="264.25" width="3.50" height="3.50"/>
<path d="M404.00 258.35L405.95 261.86L402.05 261.86Z"/>
<path d="M438.80 260.45L440.75 256.94L436.85 256.94Z"/>
<rect x="367.45" y="266.75" width="3.50" height="3.50"/>
<path d="M404.00 261.55L405.95 265.06L402.05 265.06Z"/>
<path d="M438.80 256.75L440.75 253.24L436.85 253.24Z"/>
<rect x="367.45" y="267.55" width="3.50" height="3.50"/>
<path d="M404.00 262.85L405.95 266.36L402.05 266.36Z"/>
<path d="M438.80 260.75L440.75 257.24L436.85 257.24Z"/>
<rect x="367.45" y="279.45" width="3.50" height="3.50"/>
<path d="M404.00 272.95L405.95 276.46L402.05 276.46Z"/>
<path d="M438.80 271.95L440.75 268.44L436.85 268.44Z"/>
<rect x="367.45" y="302.25" width="3.50" height="3.50"/>
<path d="M404.00 292.05L405.95 295.56L402.05 295.56Z"/>
<path d="M438.80 292.45L440.75 288.94L436.85 288.94Z"/>
<rect x="367.45" y="308.75" width="3.50" height="3.50"/>
<path d="M404.00 287.25L405.95 290.76L402.05 290.76Z"/>
<path d="M438.80 277.45L440.75 273.94L436.85 273.94Z"/>
<rect x="367.45" y="310.45" width="3.50" height="3.50"/>
<path d="M404.00 299.55L405.95 303.06L402.05 303.06Z"/>
<path d="M438.80 300.45L440.75 296.94L436.85 296.94Z"/>
<rect x="367.45" y="312.25" width="3.50" height="3.50"/>
<path d="M404.00 301.05L405.95 304.56L402.05 304.56Z"/>
<path d="M438.80 302.45L440.75 298.94L436.85 298.94Z"/>
<rect x="367.45" y="314.25" width="3.50" height="3.50"/>
<path d="M404.00 302.25L405.95 305.76L402.05 305.76Z"/>
<path d="M438.80 304.25L440.75 300.74L436.85 300.74Z"/>
<rect x="367.45" y="316.25" width="3.50" height="3.50"/>
<path d="M404.00 306.05L405.95 309.56L402.05 309.56Z"/>
<path d="M438.80 306.75L440.75 303.24L436.85 303.24Z"/>
<rect x="367.45" y="315.25" width="3.50" height="3.50"/>
<path d="M404.00 307.85L405.95 311.36L402.05 311.36Z"/>
<path d="M438.80 309.25L440.75 305.74L436.85 305.74Z"/>
</g>
<rect x="464.22" y="263.62" width="48.05" height="47.95" fill="none" stroke="#000" stroke-width="1.85"/>
<g font-family='"Liberation Sans", sans-serif' fill="#1a1a1a" font-size="6.40" letter-spacing="0.05" text-anchor="middle">
<text x="476.52" y="271.70">C1qa</text>
<text x="476.52" y="279.25">C1qb</text>
<text x="476.52" y="286.80">C1qc</text>
<text x="476.52" y="294.35">Casp7</text>
<text x="476.52" y="301.90">Cd163</text>
<text x="476.52" y="309.45">Cd48</text>
<text x="499.02" y="271.70">Clec2d</text>
<text x="499.02" y="279.25">Fcer1g</text>
<text x="499.02" y="286.80">Itgam</text>
<text x="499.02" y="294.35">Lat2</text>
<text x="499.02" y="301.90">Spn</text>
</g>
</svg>
</div></body></html>
